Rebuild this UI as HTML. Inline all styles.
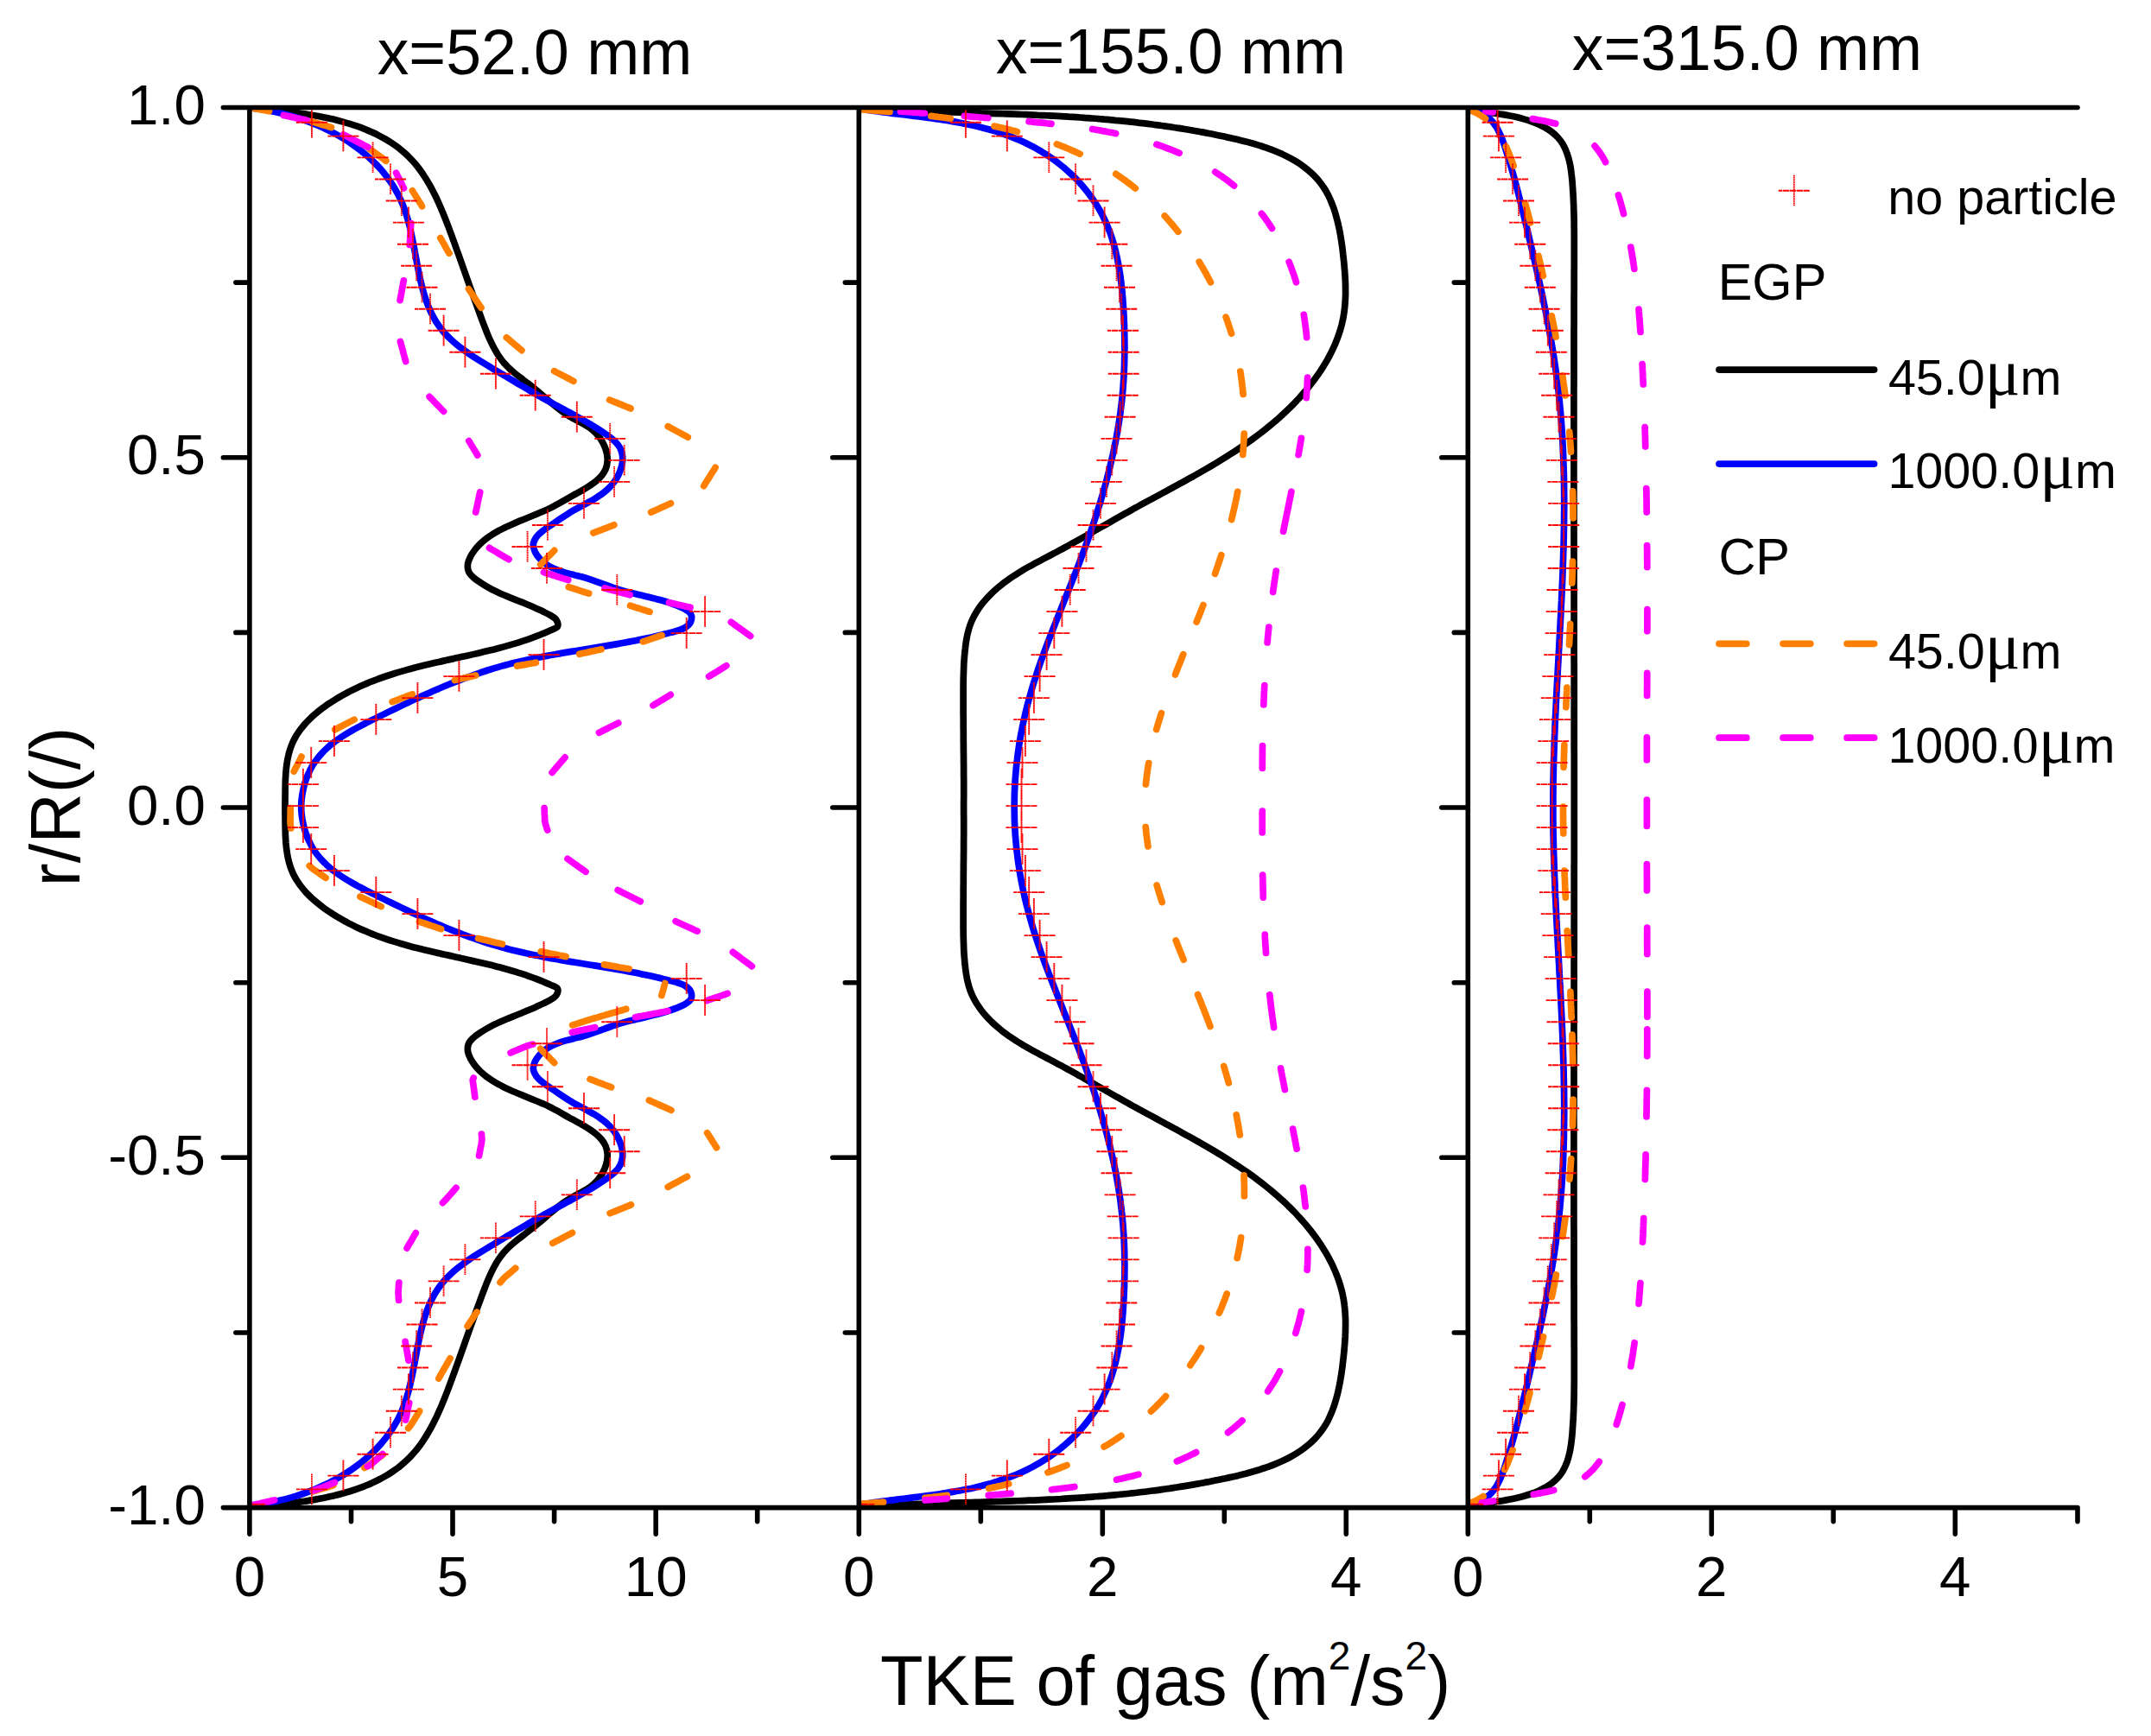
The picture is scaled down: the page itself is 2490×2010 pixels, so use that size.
<!DOCTYPE html>
<html lang="en">
<head>
<meta charset="utf-8">
<title>TKE of gas</title>
<style>
html,body{margin:0;padding:0;background:#fff;}
svg{display:block;}
text{font-family:"Liberation Sans",Arial,sans-serif;fill:#000;}
.ser{font-family:"Liberation Serif","DejaVu Serif",serif;}
.c{fill:none;stroke-linecap:round;stroke-linejoin:round;stroke-width:7.7;}
.ax{fill:none;stroke:#000;stroke-linecap:round;stroke-width:5.6;}
.mk{fill:none;stroke:#ff0000;stroke-width:1.9;stroke-dasharray:7.4 0.6;stroke-dashoffset:3.1;}
.mv{fill:none;stroke:#ff0000;stroke-width:1.9;stroke-dasharray:1.6 0.4;}
</style>
</head>
<body>
<svg width="2490" height="2010" viewBox="0 0 2490 2010">
<rect width="2490" height="2010" fill="#fff"/>
<defs><clipPath id="cp1"><rect x="288.9" y="124.5" width="705.4" height="1621.1"/></clipPath><clipPath id="cp2"><rect x="994.3" y="124.5" width="705" height="1621.1"/></clipPath><clipPath id="cp3"><rect x="1699.3" y="124.5" width="785.7" height="1621.1"/></clipPath></defs>
<g clip-path="url(#cp1)">
<path class="c" stroke="#000" d="M289.3 124.6 C290.8 124.7 295.3 125.2 298.3 125.5 C301.3 125.8 304.3 126.1 307.3 126.4 C310.3 126.7 313.2 127 316.2 127.3 C319.2 127.6 322.2 128 325.2 128.3 C328.2 128.6 331.2 129 334.2 129.4 C337.2 129.7 340.1 130.1 343.1 130.5 C346.1 130.9 349.1 131.4 352 131.8 C355 132.3 358 132.7 361 133.2 C363.9 133.7 366.9 134.3 369.8 134.8 C372.8 135.4 375.7 136 378.7 136.6 C381.6 137.3 384.6 137.9 387.5 138.6 C390.4 139.3 393.3 140.1 396.2 140.9 C399.1 141.7 402 142.5 404.9 143.4 C407.8 144.3 410.6 145.2 413.5 146.2 C416.3 147.2 419.1 148.2 421.9 149.3 C424.7 150.5 427.5 151.6 430.2 152.9 C433 154.1 435.7 155.4 438.4 156.8 C441 158.1 443.7 159.6 446.3 161.1 C448.9 162.6 451.4 164.2 453.9 165.9 C456.4 167.6 458.9 169.3 461.3 171.1 C463.6 173 466 174.9 468.2 176.9 C470.5 178.9 472.6 181 474.7 183.1 C476.8 185.3 478.8 187.5 480.8 189.8 C482.7 192.1 484.5 194.5 486.3 196.9 C488.1 199.4 489.8 201.8 491.4 204.4 C493.1 206.9 494.6 209.5 496.1 212.1 C497.7 214.7 499.1 217.3 500.5 220 C501.9 222.6 503.2 225.3 504.6 228 C505.9 230.7 507.1 233.5 508.3 236.2 C509.6 239 510.8 241.7 511.9 244.5 C513.1 247.3 514.2 250.1 515.3 252.9 C516.4 255.7 517.5 258.5 518.6 261.3 C519.6 264.1 520.7 266.9 521.7 269.7 C522.8 272.5 523.8 275.4 524.8 278.2 C525.9 281 526.9 283.9 527.9 286.7 C528.9 289.5 529.9 292.3 531 295.2 C532 298 533 300.8 534 303.7 C535 306.5 536 309.4 537 312.2 C538 315 539 317.9 540 320.7 C541 323.5 542 326.4 543 329.2 C544 332 545 334.9 546.1 337.7 C547.1 340.5 548.1 343.4 549.1 346.2 C550.1 349 551.2 351.8 552.2 354.7 C553.2 357.5 554.3 360.3 555.3 363.1 C556.3 366 557.4 368.8 558.4 371.6 C559.5 374.4 560.6 377.2 561.6 380 C562.7 382.8 563.8 385.6 565 388.4 C566.2 391.2 567.4 393.9 568.7 396.7 C570 399.4 571.3 402.1 572.8 404.7 C574.2 407.3 575.8 409.9 577.5 412.4 C579.2 414.9 581 417.3 582.9 419.6 C584.9 421.9 587 424 589.1 426.1 C591.3 428.2 593.6 430.2 595.9 432.1 C598.2 434 600.6 435.9 603 437.7 C605.3 439.5 607.8 441.3 610.1 443.2 C612.5 445 614.9 446.8 617.3 448.7 C619.6 450.6 621.9 452.5 624.2 454.5 C626.5 456.4 628.8 458.4 631.1 460.3 C633.3 462.3 635.6 464.3 637.9 466.2 C640.2 468.2 642.5 470.1 644.9 472 C647.2 473.8 649.6 475.6 652.1 477.4 C654.5 479.1 657 480.8 659.6 482.3 C662.2 483.9 664.9 485.3 667.5 486.7 C670.2 488.1 672.9 489.4 675.5 490.9 C678.1 492.4 680.8 493.9 683.2 495.7 C685.6 497.5 687.9 499.5 689.9 501.6 C692 503.8 693.9 506.2 695.5 508.7 C697.2 511.2 698.6 513.9 699.8 516.6 C701 519.4 701.9 522.3 702.5 525.2 C703 528.1 703.4 531.2 703.1 534.2 C702.9 537.1 702.3 540.2 701.2 543 C700.1 545.7 698.3 548.3 696.5 550.6 C694.6 553 692.4 555 690.1 557 C687.8 558.9 685.3 560.6 682.8 562.3 C680.3 564 677.7 565.5 675.1 567.1 C672.6 568.6 669.9 570 667.3 571.5 C664.6 572.9 662 574.4 659.4 575.8 C656.8 577.3 654.2 578.8 651.5 580.3 C648.9 581.8 646.3 583.3 643.7 584.7 C641 586.1 638.4 587.6 635.7 588.9 C633 590.2 630.2 591.4 627.5 592.6 C624.7 593.9 621.9 595 619.1 596.1 C616.4 597.3 613.6 598.4 610.8 599.5 C608 600.7 605.2 601.8 602.4 602.9 C599.6 604.1 596.8 605.2 594.1 606.4 C591.3 607.6 588.6 608.8 585.9 610.1 C583.2 611.5 580.5 612.8 577.8 614.2 C575.2 615.7 572.6 617.2 570 618.8 C567.5 620.4 565 622.1 562.6 623.9 C560.3 625.8 557.9 627.7 555.8 629.8 C553.7 631.9 551.6 634.2 549.8 636.5 C548 638.9 546.2 641.4 544.8 644.1 C543.5 646.7 542 649.6 541.6 652.5 C541.2 655.3 541.3 658.7 542.3 661.3 C543.3 664 545.7 666.3 547.8 668.4 C549.9 670.4 552.5 672.1 555 673.8 C557.5 675.5 560 677.1 562.6 678.6 C565.2 680.1 567.9 681.6 570.5 683 C573.2 684.3 575.9 685.6 578.7 686.9 C581.4 688.1 584.2 689.3 586.9 690.4 C589.7 691.6 592.5 692.7 595.3 693.8 C598.1 694.9 600.9 696 603.7 697.1 C606.5 698.3 609.3 699.4 612 700.6 C614.8 701.8 617.6 703 620.3 704.2 C623 705.5 625.8 706.7 628.5 708 C631.2 709.3 634 710.5 636.6 712.1 C639.1 713.6 642.3 715.2 643.8 717.4 C645.3 719.6 646.4 723.3 645.4 725.4 C644.4 727.4 640.3 728.4 637.6 729.7 C634.9 731.1 632.1 732.2 629.3 733.3 C626.5 734.5 623.7 735.6 620.9 736.7 C618.1 737.8 615.3 738.8 612.4 739.8 C609.6 740.8 606.7 741.8 603.9 742.7 C601 743.6 598.2 744.5 595.3 745.4 C592.4 746.2 589.5 747.1 586.6 747.9 C583.7 748.7 580.8 749.5 577.9 750.3 C575 751 572.1 751.8 569.2 752.5 C566.2 753.2 563.3 753.9 560.4 754.6 C557.5 755.3 554.5 756 551.6 756.7 C548.7 757.3 545.7 758 542.8 758.7 C539.9 759.3 536.9 760 534 760.6 C531.1 761.3 528.1 761.9 525.2 762.6 C522.2 763.2 519.3 763.8 516.4 764.5 C513.4 765.2 510.5 765.8 507.6 766.5 C504.6 767.1 501.7 767.8 498.8 768.5 C495.8 769.2 492.9 769.9 490 770.6 C487.1 771.3 484.2 772.1 481.2 772.8 C478.3 773.6 475.4 774.3 472.5 775.1 C469.6 775.9 466.7 776.7 463.8 777.6 C461 778.4 458.1 779.3 455.2 780.2 C452.3 781.1 449.5 782 446.6 783 C443.8 784 440.9 785 438.1 786 C435.3 787.1 432.5 788.1 429.7 789.2 C426.9 790.4 424.1 791.5 421.4 792.7 C418.6 793.9 415.9 795.1 413.1 796.4 C410.4 797.7 407.7 799 405 800.4 C402.4 801.8 399.7 803.2 397.1 804.7 C394.5 806.1 391.9 807.7 389.3 809.2 C386.7 810.8 384.2 812.4 381.7 814.1 C379.2 815.7 376.7 817.5 374.3 819.2 C371.9 821 369.5 822.9 367.2 824.8 C364.9 826.7 362.6 828.7 360.4 830.7 C358.2 832.8 356.1 834.9 354 837.1 C352 839.4 350.1 841.7 348.2 844.1 C346.4 846.4 344.7 848.9 343.1 851.5 C341.6 854.1 340.1 856.7 338.9 859.5 C337.7 862.2 336.6 865 335.7 867.9 C334.8 870.7 334 873.7 333.4 876.6 C332.7 879.5 332.3 882.5 331.9 885.5 C331.4 888.5 331.2 891.5 330.9 894.5 C330.7 897.5 330.5 900.5 330.4 903.5 C330.3 906.5 330.2 909.5 330.2 912.5 C330.1 915.5 330.1 918.5 330.1 921.5 C330 924.5 330 927.5 330 930.5 C330 933.5 330 936.6 330 939.6 C330 942.6 330 945.6 330.1 948.6 C330.1 951.6 330.1 954.6 330.2 957.6 C330.2 960.6 330.3 963.6 330.4 966.6 C330.5 969.6 330.7 972.6 330.9 975.6 C331.2 978.6 331.4 981.6 331.9 984.6 C332.3 987.6 332.7 990.6 333.4 993.5 C334 996.4 334.8 999.4 335.7 1002.2 C336.6 1005.1 337.7 1007.9 338.9 1010.6 C340.1 1013.4 341.6 1016 343.1 1018.6 C344.7 1021.2 346.4 1023.7 348.2 1026 C350.1 1028.4 352 1030.7 354 1033 C356.1 1035.2 358.2 1037.3 360.4 1039.4 C362.6 1041.4 364.9 1043.4 367.2 1045.3 C369.5 1047.2 371.9 1049.1 374.3 1050.9 C376.7 1052.6 379.2 1054.4 381.7 1056 C384.2 1057.7 386.7 1059.3 389.3 1060.9 C391.9 1062.4 394.5 1064 397.1 1065.4 C399.7 1066.9 402.4 1068.3 405 1069.7 C407.7 1071.1 410.4 1072.4 413.1 1073.7 C415.9 1075 418.6 1076.2 421.4 1077.4 C424.1 1078.6 426.9 1079.7 429.7 1080.9 C432.5 1082 435.3 1083 438.1 1084.1 C440.9 1085.1 443.8 1086.1 446.6 1087.1 C449.5 1088.1 452.3 1089 455.2 1089.9 C458.1 1090.8 461 1091.7 463.8 1092.5 C466.7 1093.4 469.6 1094.2 472.5 1095 C475.4 1095.8 478.3 1096.5 481.2 1097.3 C484.2 1098 487.1 1098.8 490 1099.5 C492.9 1100.2 495.8 1100.9 498.8 1101.6 C501.7 1102.3 504.6 1103 507.6 1103.6 C510.5 1104.3 513.4 1104.9 516.4 1105.6 C519.3 1106.3 522.2 1106.9 525.2 1107.5 C528.1 1108.2 531.1 1108.8 534 1109.5 C536.9 1110.1 539.9 1110.8 542.8 1111.4 C545.7 1112.1 548.7 1112.8 551.6 1113.4 C554.5 1114.1 557.5 1114.8 560.4 1115.5 C563.3 1116.2 566.2 1116.9 569.2 1117.6 C572.1 1118.3 575 1119.1 577.9 1119.8 C580.8 1120.6 583.7 1121.4 586.6 1122.2 C589.5 1123 592.4 1123.9 595.3 1124.7 C598.2 1125.6 601 1126.5 603.9 1127.4 C606.7 1128.3 609.6 1129.3 612.4 1130.3 C615.3 1131.3 618.1 1132.3 620.9 1133.4 C623.7 1134.5 626.5 1135.6 629.3 1136.8 C632.1 1137.9 634.9 1139 637.6 1140.4 C640.3 1141.7 644.4 1142.7 645.4 1144.7 C646.4 1146.8 645.3 1150.5 643.8 1152.7 C642.3 1154.9 639.1 1156.5 636.6 1158 C634 1159.6 631.2 1160.8 628.5 1162.1 C625.8 1163.4 623 1164.6 620.3 1165.9 C617.6 1167.1 614.8 1168.3 612 1169.5 C609.3 1170.7 606.5 1171.8 603.7 1173 C600.9 1174.1 598.1 1175.2 595.3 1176.3 C592.5 1177.4 589.7 1178.5 586.9 1179.7 C584.2 1180.8 581.4 1182 578.7 1183.2 C575.9 1184.5 573.2 1185.8 570.5 1187.1 C567.9 1188.5 565.2 1190 562.6 1191.5 C560 1193 557.5 1194.6 555 1196.3 C552.5 1198 549.9 1199.7 547.8 1201.7 C545.7 1203.8 543.3 1206.1 542.3 1208.8 C541.3 1211.4 541.2 1214.8 541.6 1217.6 C542 1220.5 543.5 1223.4 544.8 1226 C546.2 1228.7 548 1231.2 549.8 1233.6 C551.6 1235.9 553.7 1238.2 555.8 1240.3 C557.9 1242.4 560.3 1244.3 562.6 1246.2 C565 1248 567.5 1249.7 570 1251.3 C572.6 1252.9 575.2 1254.4 577.8 1255.9 C580.5 1257.3 583.2 1258.6 585.9 1260 C588.6 1261.3 591.3 1262.5 594.1 1263.7 C596.8 1264.9 599.6 1266 602.4 1267.2 C605.2 1268.3 608 1269.4 610.8 1270.6 C613.6 1271.7 616.4 1272.8 619.1 1274 C621.9 1275.1 624.7 1276.2 627.5 1277.5 C630.2 1278.7 633 1279.9 635.7 1281.2 C638.4 1282.5 641 1284 643.7 1285.4 C646.3 1286.8 648.9 1288.3 651.5 1289.8 C654.2 1291.3 656.8 1292.8 659.4 1294.3 C662 1295.7 664.6 1297.2 667.3 1298.6 C669.9 1300.1 672.6 1301.5 675.1 1303 C677.7 1304.6 680.3 1306.1 682.8 1307.8 C685.3 1309.5 687.8 1311.2 690.1 1313.1 C692.4 1315.1 694.6 1317.1 696.5 1319.5 C698.3 1321.8 700.1 1324.4 701.2 1327.1 C702.3 1329.9 702.9 1333 703.1 1335.9 C703.4 1338.9 703 1342 702.5 1344.9 C701.9 1347.8 701 1350.7 699.8 1353.5 C698.6 1356.2 697.2 1358.9 695.5 1361.4 C693.9 1363.9 692 1366.3 689.9 1368.5 C687.9 1370.6 685.6 1372.6 683.2 1374.4 C680.8 1376.2 678.1 1377.7 675.5 1379.2 C672.9 1380.7 670.2 1382 667.5 1383.4 C664.9 1384.8 662.2 1386.2 659.6 1387.8 C657 1389.3 654.5 1391 652.1 1392.7 C649.6 1394.5 647.2 1396.3 644.9 1398.1 C642.5 1400 640.2 1401.9 637.9 1403.9 C635.6 1405.8 633.3 1407.8 631.1 1409.8 C628.8 1411.7 626.5 1413.7 624.2 1415.6 C621.9 1417.6 619.6 1419.5 617.3 1421.4 C614.9 1423.3 612.5 1425.1 610.1 1426.9 C607.8 1428.8 605.3 1430.6 603 1432.4 C600.6 1434.2 598.2 1436.1 595.9 1438 C593.6 1439.9 591.3 1441.9 589.1 1444 C587 1446.1 584.9 1448.2 582.9 1450.5 C581 1452.8 579.2 1455.2 577.5 1457.7 C575.8 1460.2 574.2 1462.8 572.8 1465.4 C571.3 1468 570 1470.7 568.7 1473.4 C567.4 1476.2 566.2 1478.9 565 1481.7 C563.8 1484.5 562.7 1487.3 561.6 1490.1 C560.6 1492.9 559.5 1495.7 558.4 1498.5 C557.4 1501.3 556.3 1504.1 555.3 1507 C554.3 1509.8 553.2 1512.6 552.2 1515.4 C551.2 1518.3 550.1 1521.1 549.1 1523.9 C548.1 1526.7 547.1 1529.6 546.1 1532.4 C545 1535.2 544 1538.1 543 1540.9 C542 1543.7 541 1546.6 540 1549.4 C539 1552.2 538 1555.1 537 1557.9 C536 1560.7 535 1563.6 534 1566.4 C533 1569.3 532 1572.1 531 1574.9 C529.9 1577.8 528.9 1580.6 527.9 1583.4 C526.9 1586.2 525.9 1589.1 524.8 1591.9 C523.8 1594.7 522.8 1597.6 521.7 1600.4 C520.7 1603.2 519.6 1606 518.6 1608.8 C517.5 1611.6 516.4 1614.4 515.3 1617.2 C514.2 1620 513.1 1622.8 511.9 1625.6 C510.8 1628.4 509.6 1631.1 508.3 1633.9 C507.1 1636.6 505.9 1639.4 504.6 1642.1 C503.2 1644.8 501.9 1647.5 500.5 1650.1 C499.1 1652.8 497.7 1655.4 496.1 1658 C494.6 1660.6 493.1 1663.2 491.4 1665.7 C489.8 1668.3 488.1 1670.7 486.3 1673.2 C484.5 1675.6 482.7 1678 480.8 1680.3 C478.8 1682.6 476.8 1684.8 474.7 1687 C472.6 1689.1 470.5 1691.2 468.2 1693.2 C466 1695.2 463.6 1697.1 461.3 1699 C458.9 1700.8 456.4 1702.5 453.9 1704.2 C451.4 1705.9 448.9 1707.5 446.3 1709 C443.7 1710.5 441 1712 438.4 1713.3 C435.7 1714.7 433 1716 430.2 1717.2 C427.5 1718.5 424.7 1719.6 421.9 1720.8 C419.1 1721.9 416.3 1722.9 413.5 1723.9 C410.6 1724.9 407.8 1725.8 404.9 1726.7 C402 1727.6 399.1 1728.4 396.2 1729.2 C393.3 1730 390.4 1730.8 387.5 1731.5 C384.6 1732.2 381.6 1732.8 378.7 1733.5 C375.7 1734.1 372.8 1734.7 369.8 1735.3 C366.9 1735.8 363.9 1736.4 361 1736.9 C358 1737.4 355 1737.8 352 1738.3 C349.1 1738.7 346.1 1739.2 343.1 1739.6 C340.1 1740 337.2 1740.4 334.2 1740.7 C331.2 1741.1 328.2 1741.5 325.2 1741.8 C322.2 1742.1 319.2 1742.5 316.2 1742.8 C313.2 1743.1 310.3 1743.4 307.3 1743.7 C304.3 1744 301.3 1744.3 298.3 1744.6 C295.3 1744.9 290.8 1745.4 289.3 1745.5"/>
<path class="c" stroke="#0000ff" d="M289.3 124.8 C290.8 125 295.3 125.5 298.2 125.9 C301.2 126.3 304.2 126.7 307.2 127.2 C310.1 127.7 313.1 128.3 316 128.9 C319 129.5 321.9 130.2 324.8 130.9 C327.7 131.6 330.6 132.3 333.5 133.1 C336.4 133.9 339.3 134.7 342.2 135.6 C345.1 136.5 347.9 137.5 350.7 138.5 C353.6 139.4 356.4 140.5 359.2 141.6 C362 142.7 364.8 143.8 367.5 145 C370.3 146.2 373.1 147.4 375.8 148.7 C378.5 150 381.2 151.3 383.8 152.7 C386.5 154 389.2 155.5 391.8 157 C394.4 158.5 397 160 399.5 161.6 C402.1 163.2 404.6 164.8 407 166.5 C409.5 168.2 412 170 414.4 171.8 C416.8 173.6 419.1 175.4 421.4 177.4 C423.7 179.3 426 181.3 428.2 183.3 C430.4 185.3 432.6 187.4 434.7 189.5 C436.8 191.7 438.9 193.9 440.8 196.1 C442.8 198.4 444.7 200.7 446.6 203.1 C448.4 205.5 450.2 207.9 451.9 210.4 C453.6 212.8 455.3 215.4 456.8 217.9 C458.3 220.5 459.8 223.1 461.2 225.8 C462.5 228.5 463.8 231.2 465 234 C466.2 236.7 467.3 239.5 468.3 242.4 C469.3 245.2 470.2 248 471.1 250.9 C472 253.8 472.8 256.7 473.5 259.6 C474.3 262.5 475 265.4 475.6 268.4 C476.3 271.3 476.9 274.2 477.5 277.2 C478.1 280.1 478.7 283.1 479.2 286 C479.8 289 480.3 291.9 480.9 294.9 C481.4 297.8 482 300.8 482.5 303.7 C483.1 306.7 483.6 309.6 484.2 312.6 C484.8 315.5 485.4 318.5 486 321.4 C486.7 324.4 487.4 327.3 488.1 330.2 C488.8 333.1 489.6 336 490.4 338.9 C491.3 341.8 492.2 344.7 493.2 347.5 C494.1 350.3 495.2 353.1 496.4 355.9 C497.5 358.7 498.8 361.4 500.1 364.1 C501.5 366.8 502.9 369.4 504.5 372 C506.1 374.5 507.8 377 509.6 379.4 C511.4 381.8 513.3 384.1 515.3 386.4 C517.3 388.6 519.5 390.7 521.7 392.8 C523.8 394.8 526.1 396.8 528.4 398.7 C530.7 400.6 533.1 402.5 535.5 404.2 C537.9 406 540.4 407.8 542.9 409.5 C545.3 411.2 547.9 412.8 550.4 414.5 C552.9 416.1 555.5 417.7 558 419.2 C560.6 420.8 563.1 422.4 565.7 423.9 C568.3 425.5 570.9 427 573.4 428.6 C576 430.1 578.6 431.6 581.2 433.2 C583.8 434.7 586.3 436.3 588.9 437.8 C591.5 439.4 594.1 440.9 596.7 442.4 C599.2 444 601.8 445.5 604.4 447 C607 448.5 609.6 450.1 612.2 451.6 C614.8 453.1 617.4 454.6 620 456.1 C622.6 457.6 625.2 459.1 627.8 460.5 C630.5 462 633.1 463.5 635.7 464.9 C638.3 466.4 641 467.8 643.6 469.2 C646.3 470.7 648.9 472.1 651.6 473.5 C654.2 474.9 656.9 476.3 659.5 477.7 C662.1 479.2 664.8 480.6 667.4 482.1 C670 483.5 672.7 485 675.3 486.5 C677.9 488 680.5 489.5 683.1 491 C685.6 492.6 688.2 494.1 690.7 495.7 C693.3 497.4 695.8 499 698.3 500.7 C700.8 502.4 703.3 504 705.6 505.9 C708 507.7 710.5 509.5 712.5 511.7 C714.6 513.8 716.6 516.2 717.9 518.9 C719.2 521.5 720.1 524.5 720.5 527.4 C720.9 530.4 720.7 533.5 720.3 536.4 C719.8 539.4 719 542.3 717.9 545.1 C716.9 547.9 715.6 550.7 714.1 553.2 C712.6 555.8 710.8 558.3 708.9 560.6 C707 562.9 704.9 565.1 702.7 567.1 C700.5 569.1 698.1 571 695.6 572.7 C693.2 574.5 690.7 576.1 688.1 577.7 C685.5 579.3 682.9 580.7 680.3 582.2 C677.6 583.6 675 585 672.3 586.4 C669.7 587.8 667 589.2 664.4 590.7 C661.8 592.2 659.2 593.8 656.7 595.4 C654.1 597 651.7 598.6 649.2 600.3 C646.7 602 644.2 603.7 641.7 605.4 C639.2 607 636.7 608.7 634.2 610.4 C631.8 612.1 629.2 613.8 627 615.8 C624.7 617.7 622.3 619.7 620.7 622.2 C619.1 624.6 617.5 627.6 617.3 630.4 C617.1 633.2 618.2 636.4 619.4 639.1 C620.6 641.7 622.5 644.2 624.5 646.5 C626.4 648.7 628.7 650.7 631.1 652.5 C633.5 654.3 636.1 655.9 638.8 657.2 C641.4 658.6 644.3 659.7 647.1 660.7 C649.9 661.7 652.8 662.5 655.7 663.4 C658.6 664.2 661.5 664.9 664.4 665.6 C667.3 666.4 670.3 667 673.2 667.8 C676.1 668.6 678.9 669.4 681.8 670.4 C684.7 671.3 687.5 672.3 690.3 673.3 C693.2 674.3 696 675.4 698.8 676.4 C701.6 677.5 704.4 678.5 707.2 679.5 C710.1 680.5 712.9 681.5 715.8 682.4 C718.6 683.3 721.5 684.1 724.4 684.9 C727.3 685.7 730.3 686.4 733.2 687.1 C736.1 687.8 739 688.4 742 689.1 C744.9 689.8 747.8 690.5 750.7 691.2 C753.7 691.9 756.6 692.6 759.5 693.4 C762.4 694.1 765.3 694.9 768.2 695.8 C771 696.6 773.9 697.6 776.7 698.5 C779.6 699.5 782.4 700.6 785.2 701.7 C787.9 702.9 790.9 703.9 793.3 705.5 C795.8 707.1 798.9 709 799.9 711.5 C801 713.9 800.6 717.6 799.5 720.2 C798.4 722.7 795.7 724.9 793.3 726.5 C790.9 728.2 787.8 729 785 730 C782.2 731 779.2 731.6 776.3 732.4 C773.4 733.2 770.5 733.9 767.6 734.6 C764.7 735.4 761.8 736.1 758.8 736.7 C755.9 737.4 753 738.1 750 738.7 C747.1 739.3 744.2 740 741.2 740.6 C738.3 741.2 735.3 741.7 732.4 742.3 C729.4 742.9 726.5 743.4 723.5 744 C720.6 744.5 717.6 745.1 714.7 745.6 C711.7 746.1 708.7 746.6 705.8 747.1 C702.8 747.6 699.8 748.1 696.9 748.6 C693.9 749.1 691 749.6 688 750.1 C685 750.6 682.1 751 679.1 751.5 C676.1 752 673.2 752.5 670.2 753 C667.2 753.5 664.3 753.9 661.3 754.4 C658.3 754.9 655.4 755.4 652.4 755.9 C649.5 756.4 646.5 757 643.5 757.5 C640.6 758 637.6 758.5 634.7 759.1 C631.7 759.6 628.8 760.2 625.8 760.8 C622.9 761.4 619.9 761.9 617 762.6 C614 763.2 611.1 763.8 608.2 764.4 C605.2 765.1 602.3 765.8 599.4 766.5 C596.5 767.2 593.5 767.9 590.6 768.6 C587.7 769.4 584.8 770.1 581.9 770.9 C579 771.7 576.1 772.5 573.3 773.4 C570.4 774.3 567.5 775.1 564.6 776 C561.8 777 558.9 777.9 556.1 778.8 C553.2 779.8 550.4 780.8 547.6 781.8 C544.7 782.8 541.9 783.8 539.1 784.9 C536.3 785.9 533.5 787 530.7 788.1 C527.9 789.2 525.1 790.3 522.3 791.4 C519.5 792.5 516.7 793.7 514 794.8 C511.2 796 508.4 797.2 505.7 798.3 C502.9 799.5 500.1 800.7 497.4 802 C494.7 803.2 491.9 804.4 489.2 805.6 C486.4 806.9 483.7 808.1 481 809.4 C478.3 810.7 475.5 811.9 472.8 813.2 C470.1 814.5 467.4 815.8 464.7 817.1 C462 818.4 459.3 819.7 456.6 821 C453.9 822.3 451.2 823.6 448.5 824.9 C445.8 826.3 443.1 827.6 440.4 828.9 C437.7 830.2 435 831.6 432.3 832.9 C429.6 834.2 426.9 835.6 424.2 836.9 C421.5 838.3 418.9 839.7 416.2 841.1 C413.6 842.5 410.9 843.9 408.3 845.4 C405.7 846.9 403.1 848.4 400.5 850 C398 851.5 395.4 853.2 393 854.9 C390.5 856.6 388.1 858.3 385.7 860.2 C383.3 862 381 863.9 378.8 866 C376.6 868 374.4 870.1 372.4 872.3 C370.4 874.5 368.4 876.8 366.6 879.2 C364.8 881.6 363.1 884.1 361.6 886.7 C360.1 889.3 358.7 892 357.5 894.7 C356.2 897.4 355.1 900.2 354.1 903.1 C353.1 905.9 352.3 908.8 351.6 911.7 C350.8 914.6 350.3 917.6 349.8 920.5 C349.4 923.5 349 926.5 348.8 929.5 C348.7 932.5 348.7 935.5 348.8 938.5 C349 941.5 349.4 944.5 349.8 947.5 C350.3 950.4 350.8 953.4 351.6 956.3 C352.3 959.2 353.1 962.1 354.1 964.9 C355.1 967.8 356.2 970.6 357.5 973.3 C358.7 976 360.1 978.7 361.6 981.3 C363.1 983.9 364.8 986.4 366.6 988.8 C368.4 991.2 370.4 993.5 372.4 995.7 C374.4 997.9 376.6 1000 378.8 1002 C381 1004.1 383.3 1006 385.7 1007.8 C388.1 1009.7 390.5 1011.4 393 1013.1 C395.4 1014.8 398 1016.5 400.5 1018 C403.1 1019.6 405.7 1021.1 408.3 1022.6 C410.9 1024.1 413.6 1025.5 416.2 1026.9 C418.9 1028.3 421.5 1029.7 424.2 1031.1 C426.9 1032.4 429.6 1033.8 432.3 1035.1 C435 1036.4 437.7 1037.8 440.4 1039.1 C443.1 1040.4 445.8 1041.7 448.5 1043.1 C451.2 1044.4 453.9 1045.7 456.6 1047 C459.3 1048.3 462 1049.6 464.7 1050.9 C467.4 1052.2 470.1 1053.5 472.8 1054.8 C475.5 1056.1 478.3 1057.3 481 1058.6 C483.7 1059.9 486.4 1061.1 489.2 1062.4 C491.9 1063.6 494.7 1064.8 497.4 1066 C500.1 1067.3 502.9 1068.5 505.7 1069.7 C508.4 1070.8 511.2 1072 514 1073.2 C516.7 1074.3 519.5 1075.5 522.3 1076.6 C525.1 1077.7 527.9 1078.8 530.7 1079.9 C533.5 1081 536.3 1082.1 539.1 1083.1 C541.9 1084.2 544.7 1085.2 547.6 1086.2 C550.4 1087.2 553.2 1088.2 556.1 1089.2 C558.9 1090.1 561.8 1091 564.6 1092 C567.5 1092.9 570.4 1093.7 573.3 1094.6 C576.1 1095.5 579 1096.3 581.9 1097.1 C584.8 1097.9 587.7 1098.6 590.6 1099.4 C593.5 1100.1 596.5 1100.8 599.4 1101.5 C602.3 1102.2 605.2 1102.9 608.2 1103.6 C611.1 1104.2 614 1104.8 617 1105.4 C619.9 1106.1 622.9 1106.6 625.8 1107.2 C628.8 1107.8 631.7 1108.4 634.7 1108.9 C637.6 1109.5 640.6 1110 643.5 1110.5 C646.5 1111 649.5 1111.6 652.4 1112.1 C655.4 1112.6 658.3 1113.1 661.3 1113.6 C664.3 1114.1 667.2 1114.5 670.2 1115 C673.2 1115.5 676.1 1116 679.1 1116.5 C682.1 1117 685 1117.4 688 1117.9 C691 1118.4 693.9 1118.9 696.9 1119.4 C699.8 1119.9 702.8 1120.4 705.8 1120.9 C708.7 1121.4 711.7 1121.9 714.7 1122.4 C717.6 1122.9 720.6 1123.5 723.5 1124 C726.5 1124.6 729.4 1125.1 732.4 1125.7 C735.3 1126.3 738.3 1126.8 741.2 1127.4 C744.2 1128 747.1 1128.7 750 1129.3 C753 1129.9 755.9 1130.6 758.8 1131.3 C761.8 1131.9 764.7 1132.6 767.6 1133.4 C770.5 1134.1 773.4 1134.8 776.3 1135.6 C779.2 1136.4 782.2 1137 785 1138 C787.8 1139 790.9 1139.8 793.3 1141.5 C795.7 1143.1 798.4 1145.3 799.5 1147.8 C800.6 1150.4 801 1154.1 799.9 1156.5 C798.9 1159 795.8 1160.9 793.3 1162.5 C790.9 1164.1 787.9 1165.1 785.2 1166.3 C782.4 1167.4 779.6 1168.5 776.7 1169.5 C773.9 1170.4 771 1171.4 768.2 1172.2 C765.3 1173.1 762.4 1173.9 759.5 1174.6 C756.6 1175.4 753.7 1176.1 750.7 1176.8 C747.8 1177.5 744.9 1178.2 742 1178.9 C739 1179.6 736.1 1180.2 733.2 1180.9 C730.3 1181.6 727.3 1182.3 724.4 1183.1 C721.5 1183.9 718.6 1184.7 715.8 1185.6 C712.9 1186.5 710.1 1187.5 707.2 1188.5 C704.4 1189.5 701.6 1190.5 698.8 1191.6 C696 1192.6 693.2 1193.7 690.3 1194.7 C687.5 1195.7 684.7 1196.7 681.8 1197.6 C678.9 1198.6 676.1 1199.4 673.2 1200.2 C670.3 1201 667.3 1201.6 664.4 1202.4 C661.5 1203.1 658.6 1203.8 655.7 1204.6 C652.8 1205.5 649.9 1206.3 647.1 1207.3 C644.3 1208.3 641.4 1209.4 638.8 1210.8 C636.1 1212.1 633.5 1213.7 631.1 1215.5 C628.7 1217.3 626.4 1219.3 624.5 1221.5 C622.5 1223.8 620.6 1226.3 619.4 1228.9 C618.2 1231.6 617.1 1234.8 617.3 1237.6 C617.5 1240.4 619.1 1243.4 620.7 1245.8 C622.3 1248.3 624.7 1250.3 627 1252.2 C629.2 1254.2 631.8 1255.9 634.2 1257.6 C636.7 1259.3 639.2 1261 641.7 1262.6 C644.2 1264.3 646.7 1266 649.2 1267.7 C651.7 1269.4 654.1 1271 656.7 1272.6 C659.2 1274.2 661.8 1275.8 664.4 1277.3 C667 1278.8 669.7 1280.2 672.3 1281.6 C675 1283 677.6 1284.4 680.3 1285.8 C682.9 1287.3 685.5 1288.7 688.1 1290.3 C690.7 1291.9 693.2 1293.5 695.6 1295.3 C698.1 1297 700.5 1298.9 702.7 1300.9 C704.9 1302.9 707 1305.1 708.9 1307.4 C710.8 1309.7 712.6 1312.2 714.1 1314.8 C715.6 1317.3 716.9 1320.1 717.9 1322.9 C719 1325.7 719.8 1328.6 720.3 1331.6 C720.7 1334.5 720.9 1337.6 720.5 1340.6 C720.1 1343.5 719.2 1346.5 717.9 1349.1 C716.6 1351.8 714.6 1354.2 712.5 1356.3 C710.5 1358.5 708 1360.3 705.6 1362.1 C703.3 1364 700.8 1365.6 698.3 1367.3 C695.8 1369 693.3 1370.6 690.7 1372.3 C688.2 1373.9 685.6 1375.4 683.1 1377 C680.5 1378.5 677.9 1380 675.3 1381.5 C672.7 1383 670 1384.5 667.4 1385.9 C664.8 1387.4 662.1 1388.8 659.5 1390.3 C656.9 1391.7 654.2 1393.1 651.6 1394.5 C648.9 1395.9 646.3 1397.3 643.6 1398.8 C641 1400.2 638.3 1401.6 635.7 1403.1 C633.1 1404.5 630.5 1406 627.8 1407.5 C625.2 1408.9 622.6 1410.4 620 1411.9 C617.4 1413.4 614.8 1414.9 612.2 1416.4 C609.6 1417.9 607 1419.5 604.4 1421 C601.8 1422.5 599.2 1424 596.7 1425.6 C594.1 1427.1 591.5 1428.6 588.9 1430.2 C586.3 1431.7 583.8 1433.3 581.2 1434.8 C578.6 1436.4 576 1437.9 573.4 1439.4 C570.9 1441 568.3 1442.5 565.7 1444.1 C563.1 1445.6 560.6 1447.2 558 1448.8 C555.5 1450.3 552.9 1451.9 550.4 1453.5 C547.9 1455.2 545.3 1456.8 542.9 1458.5 C540.4 1460.2 537.9 1462 535.5 1463.8 C533.1 1465.5 530.7 1467.4 528.4 1469.3 C526.1 1471.2 523.8 1473.2 521.7 1475.2 C519.5 1477.3 517.3 1479.4 515.3 1481.6 C513.3 1483.9 511.4 1486.2 509.6 1488.6 C507.8 1491 506.1 1493.5 504.5 1496 C502.9 1498.6 501.5 1501.2 500.1 1503.9 C498.8 1506.6 497.5 1509.3 496.4 1512.1 C495.2 1514.9 494.1 1517.7 493.2 1520.5 C492.2 1523.3 491.3 1526.2 490.4 1529.1 C489.6 1532 488.8 1534.9 488.1 1537.8 C487.4 1540.7 486.7 1543.6 486 1546.6 C485.4 1549.5 484.8 1552.5 484.2 1555.4 C483.6 1558.4 483.1 1561.3 482.5 1564.3 C482 1567.2 481.4 1570.2 480.9 1573.1 C480.3 1576.1 479.8 1579 479.2 1582 C478.7 1584.9 478.1 1587.9 477.5 1590.8 C476.9 1593.8 476.3 1596.7 475.6 1599.6 C475 1602.6 474.3 1605.5 473.5 1608.4 C472.8 1611.3 472 1614.2 471.1 1617.1 C470.2 1620 469.3 1622.8 468.3 1625.6 C467.3 1628.5 466.2 1631.3 465 1634 C463.8 1636.8 462.5 1639.5 461.2 1642.2 C459.8 1644.9 458.3 1647.5 456.8 1650.1 C455.3 1652.6 453.6 1655.2 451.9 1657.6 C450.2 1660.1 448.4 1662.5 446.6 1664.9 C444.7 1667.3 442.8 1669.6 440.8 1671.9 C438.9 1674.1 436.8 1676.3 434.7 1678.5 C432.6 1680.6 430.4 1682.7 428.2 1684.7 C426 1686.7 423.7 1688.7 421.4 1690.6 C419.1 1692.6 416.8 1694.4 414.4 1696.2 C412 1698 409.5 1699.8 407 1701.5 C404.6 1703.2 402.1 1704.8 399.5 1706.4 C397 1708 394.4 1709.5 391.8 1711 C389.2 1712.5 386.5 1714 383.8 1715.3 C381.2 1716.7 378.5 1718 375.8 1719.3 C373.1 1720.6 370.3 1721.8 367.5 1723 C364.8 1724.2 362 1725.3 359.2 1726.4 C356.4 1727.5 353.6 1728.6 350.7 1729.5 C347.9 1730.5 345.1 1731.5 342.2 1732.4 C339.3 1733.3 336.4 1734.1 333.5 1734.9 C330.6 1735.7 327.7 1736.4 324.8 1737.1 C321.9 1737.8 319 1738.5 316 1739.1 C313.1 1739.7 310.1 1740.3 307.2 1740.8 C304.2 1741.3 301.2 1741.7 298.2 1742.1 C295.3 1742.5 290.8 1743 289.3 1743.2"/>
<path class="c" stroke="#ff8000" d="M293.2 125.3 L296.2 125.9 L299.1 126.4 L302.1 127 L305.1 127.5 L308 128 L311 128.6 L311.5 128.7 M361 140.8 L363.9 141.6 L366.8 142.5 L369.6 143.4 L372.5 144.2 L375.4 145.1 L378.3 145.9 L381.1 146.8 L383.5 147.5 M427.4 172.1 L429.8 173.8 L432.2 175.6 L434.7 177.4 L437.1 179.1 L439.5 180.9 L442 182.7 L444.4 184.5 L446.9 186.2 M477.4 220.8 L479 223.4 L480.6 226 L482.2 228.5 L483.8 231.1 L485.4 233.7 L487 236.2 L488.5 238.8 M509.8 275.5 L511.3 278.1 L512.8 280.7 L514.3 283.3 L515.7 285.9 L517.2 288.6 L518.7 291.2 L520 293.3 M542.5 334.6 L544.2 337.1 L545.9 339.6 L547.5 342.1 L549.2 344.6 L550.8 347.1 L552.5 349.6 L554.2 352.1 L555.8 354.6 L557 356.3 M586.4 390.8 L588.6 392.7 L590.9 394.7 L593.2 396.6 L595.5 398.6 L597.8 400.5 L600.1 402.5 L602.4 404.4 L603.9 405.7 M641.6 429.7 L644.2 431.1 L646.9 432.4 L649.6 433.8 L652.3 435.2 L655 436.6 L657.6 438 L660.3 439.4 L663 440.8 L663.9 441.3 M705.6 463 L708.5 464.2 L711.3 465.3 L714.1 466.4 L716.9 467.6 L719.7 468.7 L722.5 469.8 L725.3 471 L728.1 472.1 L730 472.9 M773.2 493.7 L775.8 495.2 L778.5 496.6 L781.2 498 L783.9 499.5 L786.5 500.9 L789.2 502.3 L791.9 503.8 L794.6 505.2 L796.3 506.2 M828.1 541.3 L826.5 543.9 L824.9 546.4 L823.3 549 L821.7 551.6 L820.1 554.1 L818.4 556.7 L816.8 559.3 L815.2 561.9 L814.7 562.7 M776.5 582.7 L773.8 584 L771 585.2 L768.3 586.5 L765.5 587.7 L762.8 588.9 L760 590.2 L757.3 591.4 L754.5 592.6 L753.6 593.1 M710.9 607.8 L708.1 608.9 L705.2 610 L702.4 611.1 L699.6 612.2 L696.7 613.3 L693.9 614.3 L691.1 615.4 L688.2 616.5 L686.8 617 M641.7 637.4 L639.5 639.6 L637.4 641.8 L635.3 643.9 L633.1 646.1 L631 648.3 L628.9 650.4 L626.8 652.6 L625.7 653.7 M658.3 679.7 L661.2 680.6 L664 681.5 L666.9 682.4 L669.8 683.4 L672.6 684.3 L675.5 685.2 L678.3 686.1 L681.2 687 L681.7 687.1 M729.6 701.2 L732.5 702.1 L735.3 703.1 L738.2 704 L741.1 704.9 L743.9 705.8 L746.8 706.7 L749.7 707.7 L752.1 708.4 M766.2 735.6 L763.4 736.5 L760.5 737.5 L757.7 738.4 L754.8 739.4 L752 740.3 L749.1 741.3 L746.2 742.3 L744.3 742.9 M696 751.8 L693 752.5 L690.1 753.1 L687.1 753.8 L684.1 754.4 L681.2 755 L678.2 755.7 L675.3 756.3 L672.3 756.9 L670.8 757.3 M620.3 767.2 L617.3 767.8 L614.4 768.3 L611.4 768.8 L608.4 769.4 L605.5 769.9 L602.5 770.4 L599.5 770.9 L598.5 771.1 M550.6 782.1 L547.7 782.8 L544.7 783.4 L541.7 784.1 L538.8 784.8 L535.8 785.4 L532.8 786.1 L529.8 786.7 L526.9 787.4 L526.4 787.5 M477.3 803.8 L474.5 804.8 L471.6 805.9 L468.8 807 L466 808.1 L463.1 809.2 L460.3 810.3 L457.4 811.4 L454.6 812.4 L454.1 812.6 M410.1 833.2 L407.4 834.6 L404.7 835.9 L402.1 837.3 L399.4 838.7 L396.7 840.1 L394 841.5 L391.3 842.9 L388.6 844.3 L387.7 844.8 M349 876.1 L347.7 878.8 L346.3 881.5 L344.9 884.2 L343.5 886.9 L342.1 889.6 L340.7 892.3 L340.2 893.2 M336.3 935.5 L336.2 938.5 L336.2 941.5 L336.1 944.5 L336.1 947.5 L336 950.5 L336.1 953.5 L336.5 956.5 L336.8 959 M358.3 1002.5 L360.5 1004.6 L362.8 1006.6 L365.3 1008.3 L367.9 1010 L370.4 1011.8 L372.9 1013.5 L375.4 1015.2 L377.1 1016.4 M416.9 1038.2 L419.7 1039.5 L422.4 1040.8 L425.2 1042.1 L427.9 1043.4 L430.6 1044.6 L433.4 1045.9 L436.1 1047.2 L438.9 1048.5 L441.2 1049.6 M485.4 1067.1 L488.2 1068.1 L491.1 1069 L493.9 1070 L496.8 1071 L499.6 1071.9 L502.5 1072.9 L505.3 1073.8 L508.2 1074.8 L510.6 1075.6 M553.6 1086.6 L556.6 1087.3 L559.5 1087.9 L562.4 1088.6 L565.3 1089.3 L568.3 1090 L571.2 1090.7 L574.1 1091.4 L577 1092.1 L580 1092.8 L581.4 1093.1 M626.2 1101.8 L629.2 1102.4 L632.2 1103 L635.1 1103.6 L638.1 1104.2 L641.1 1104.8 L644.1 1105.4 L647 1106 L650 1106.5 L653 1107.1 L655 1107.5 M699.4 1116.9 L702.4 1117.4 L705.3 1117.9 L708.3 1118.4 L711.3 1118.9 L714.3 1119.4 L717.2 1120 L720.2 1120.5 L723.2 1121 L726.1 1121.5 L728.1 1121.8 M769.8 1138.4 L769 1141.3 L768.2 1144.3 L767.4 1147.2 L766.6 1150.1 L765.9 1152.6 M724.8 1168.3 L721.9 1169.1 L719 1170 L716.1 1170.8 L713.2 1171.7 L710.3 1172.5 L707.3 1173.3 L704.4 1174.2 L701.5 1175 L698.6 1175.9 L695.7 1176.7 L692.8 1177.6 L689.9 1178.4 L686.9 1179.2 L684 1180.1 L681.2 1181 L678.3 1181.9 L675.5 1182.8 L672.6 1183.7 L669.8 1184.7 L666.9 1185.6 L664 1186.5 L662.6 1186.9 M625.7 1214.3 L627.8 1216.5 L629.9 1218.7 L632.1 1220.8 L634.2 1223 L636.3 1225.2 L638.5 1227.3 L640.6 1229.5 L641.7 1230.6 M683 1249.5 L685.9 1250.6 L688.7 1251.7 L691.5 1252.8 L694.4 1253.8 L697.2 1254.9 L700 1256 L702.9 1257.1 L705.7 1258.2 L707.6 1258.9 M751.3 1273.9 L754.1 1275.1 L756.8 1276.4 L759.6 1277.6 L762.3 1278.9 L765.1 1280.1 L767.8 1281.3 L770.6 1282.6 L773.3 1283.8 L776.1 1285 L777 1285.5 M818.7 1311.7 L820.3 1314.3 L821.9 1316.8 L823.6 1319.4 L825.2 1322 L826.8 1324.6 L828.4 1327.1 L829.5 1328.8 M795.4 1362.3 L792.8 1363.7 L790.1 1365.2 L787.4 1366.6 L784.8 1368.1 L782.1 1369.5 L779.4 1370.9 L776.7 1372.4 L774.1 1373.8 L773.2 1374.3 M730.5 1394.9 L727.7 1396.1 L724.9 1397.2 L722.1 1398.3 L719.2 1399.5 L716.4 1400.6 L713.6 1401.8 L710.8 1402.9 L708 1404 L706.1 1404.8 M662.5 1427.4 L659.9 1428.8 L657.2 1430.2 L654.5 1431.6 L651.8 1433 L649.2 1434.4 L646.5 1435.8 L643.8 1437.2 L641.1 1438.6 L639.8 1439.3 M596.7 1468.4 L594.4 1470.4 L592.1 1472.3 L589.8 1474.3 L587.5 1476.2 L585.2 1478.2 L583 1480.2 L581 1482.5 L579.1 1484.8 M552 1519.2 L550.3 1521.7 L548.6 1524.2 L547 1526.7 L545.3 1529.2 L543.6 1531.7 L542 1534.2 L541.1 1535.5 M521 1572.9 L519.5 1575.5 L518 1578.1 L516.5 1580.8 L515 1583.4 L513.5 1586 L512 1588.6 L510.5 1591.2 L509 1593.8 L507.8 1596 M485.6 1633.9 L484 1636.5 L482.5 1639 L480.9 1641.6 L479.3 1644.2 L477.7 1646.7 L476.1 1649.3 L474.3 1651.7 L472.6 1653.6 M443.2 1684.4 L440.8 1686.2 L438.3 1688 L435.9 1689.7 L433.4 1691.5 L431 1693.3 L428.6 1695.1 L426.1 1696.8 L423.7 1698.5 L421.9 1699.5 M385.9 1719.8 L383.1 1720.6 L380.2 1721.5 L377.3 1722.4 L374.4 1723.2 L371.6 1724.1 L368.7 1724.9 L365.8 1725.8 L362.9 1726.6 L362.5 1726.8"/>
<path class="c" stroke="#ff00ff" d="M328.4 133.5 L331.4 134.1 L334.3 134.8 L337.3 135.4 L340.3 136 L343.2 136.7 L346.2 137.3 L349.1 138 L352.1 138.6 L355 139.3 M397.6 155.8 L400.3 157.2 L403 158.6 L405.7 160 L408.4 161.4 L411.1 162.8 L413.7 164.2 L416.4 165.5 L419.1 166.9 L421.8 168.3 L424.5 169.7 L425.9 170.4 M458.6 200.2 L459.9 202.9 L461.3 205.6 L462.7 208.3 L464 211 L465.4 213.8 L466.7 216.5 L467.4 217.8 M475.8 258.5 L475.6 261.5 L475.4 264.5 L475.2 267.5 L475 270.5 L474.8 273.5 L474.7 276.5 L474.5 279.5 L474.3 282.5 L474.2 283.5 M467.3 324.9 L466.7 327.9 L466.2 330.8 L465.7 333.8 L465.1 336.7 L464.6 339.7 L464 342.6 L463.5 345.6 L463.1 347.6 M463.4 395.4 L464.2 398.3 L465 401.2 L465.8 404.1 L466.6 407 L467.3 409.9 L468.1 412.8 L468.9 415.7 L469.7 418.6 M497.1 459.3 L499.2 461.5 L501.3 463.7 L503.4 465.9 L505.5 468 L507.6 470.2 L509.7 472.4 L511.8 474.6 L513.6 476.4 M542.8 510.5 L544.4 513.1 L545.9 515.7 L547.5 518.3 L549.1 520.9 L550.7 523.5 L552.2 526.1 L552.8 527 M555.7 569.9 L555 572.9 L554.4 575.8 L553.8 578.7 L553.1 581.7 L552.5 584.6 L551.9 587.6 L551.3 590.5 L550.7 593 M566.5 634.4 L569.1 636 L571.7 637.5 L574.3 639 L576.9 640.6 L579.4 642.1 L582 643.6 L584.6 645.2 L587.2 646.7 L589 647.7 M629.4 662.6 L632.3 663.5 L635.1 664.4 L638 665.3 L640.9 666.2 L643.8 667.2 L646.7 668.1 L649.6 669 L652.5 669.9 L655.4 670.8 L657.8 671.5 M700 681 L702.9 681.8 L705.8 682.6 L708.8 683.4 L711.7 684.1 L714.6 684.9 L717.5 685.7 L720.4 686.5 L723.4 687.2 L726.3 688 L729.2 688.8 M774.5 697.7 L777.4 698.4 L780.4 699 L783.3 699.7 L786.3 700.4 L789.3 701.1 L792.2 701.7 L795.2 702.4 L798.2 703.1 L799.1 703.3 M846.3 720.3 L848.8 722.1 L851.2 723.9 L853.6 725.6 L856.1 727.4 L858.5 729.1 L861 730.9 L863.4 732.6 L865.8 734.4 L868.3 736.2 L868.7 736.5 M840.9 770.8 L838.3 772.4 L835.7 774 L833.1 775.6 L830.6 777.2 L828 778.8 L825.4 780.3 L822.8 781.9 L820.7 783.2 M776.3 804.4 L773.7 806 L771.2 807.5 L768.6 809.1 L766 810.7 L763.4 812.2 L760.8 813.8 L758.2 815.4 L756 816.7 M715.7 837.1 L713 838.5 L710.2 839.9 L707.5 841.2 L704.8 842.6 L702.1 844 L699.4 845.3 L696.6 846.7 L693.9 848.1 L693.5 848.3 M654 876.9 L652.1 879.2 L650.1 881.5 L648.2 883.8 L646.2 886.1 L644.3 888.4 L642.3 890.6 L640.4 892.9 L639.1 894.4 M630.1 935.5 L630.2 938.5 L630.3 941.5 L630.5 944.5 L630.6 947.5 L630.7 950.5 L631.3 953.5 L632.2 956.4 L633.1 959.3 L633.7 961.2 M657 994.4 L659.5 996.1 L661.9 997.9 L664.4 999.7 L666.9 1001.4 L669.3 1003.2 L671.8 1004.9 L674.3 1006.7 L676.7 1008.4 L678 1009.3 M715.2 1030.6 L717.9 1032 L720.6 1033.4 L723.3 1034.7 L726 1036.1 L728.7 1037.4 L731.4 1038.7 L734.1 1040.1 L736.8 1041.4 L739.5 1042.8 L741.3 1043.7 M782.1 1066.7 L784.8 1068 L787.6 1069.2 L790.3 1070.5 L793 1071.7 L795.8 1073 L798.5 1074.2 L801.3 1075.4 L804 1076.7 L806.7 1077.9 L807.2 1078.1 M848.3 1102.3 L850.7 1104.1 L853.1 1105.9 L855.5 1107.7 L857.9 1109.5 L860.3 1111.3 L862.8 1113.1 L865.2 1114.9 L867.6 1116.7 L870 1118.5 L870.4 1118.8 M842.1 1150.3 L839.3 1151.3 L836.4 1152.3 L833.6 1153.3 L830.7 1154.3 L827.9 1155.2 L825 1156.2 L822.1 1157.2 L819.3 1158.2 L818.3 1158.5 M773 1170.6 L770 1171.3 L767.1 1171.8 L764.1 1172.4 L761.1 1173 L758.2 1173.5 L755.2 1174.1 L752.3 1174.6 L749.3 1175.2 L746.4 1175.7 L743.4 1176.3 L740.5 1176.8 L737.5 1177.4 L735.6 1177.7 M688.7 1189.6 L685.8 1190.2 L682.8 1190.8 L679.9 1191.4 L676.9 1192.1 L674 1192.7 L671 1193.3 L668.1 1193.9 L665.1 1194.6 L662.2 1195.2 M616.8 1209.1 L613.9 1209.9 L611 1210.7 L608.2 1211.8 L605.4 1212.9 L602.6 1214.1 L599.8 1215.2 L597.1 1216.4 L594.3 1217.5 L591.6 1218.8 L591.1 1219 M548.2 1248 L547.2 1250.5 L547.6 1253.5 L548 1256.5 L548.4 1259.5 L548.8 1262.6 L549.2 1265.6 L549.6 1268.6 L549.8 1270.1 M557.4 1313 L557.7 1316 L557.9 1319 L557.6 1322 L557.1 1325 L556.5 1328 L555.9 1331 L555.4 1334 L554.8 1337 L554.6 1338 M528 1375.4 L526 1377.6 L524 1379.9 L522 1382.2 L520 1384.5 L518 1386.7 L516 1389 L513.9 1391.2 L512.5 1392.7 M481.3 1427.6 L479.7 1430.2 L478.2 1432.8 L476.7 1435.5 L475.2 1438.1 L473.6 1440.7 L472.1 1443.4 L471.1 1445.1 M461.9 1485 L461.6 1488 L461.4 1491 L461.2 1494 L461 1497 L461.2 1500 L461.4 1503 L461.6 1505.5 M469.1 1553.4 L469.7 1556.4 L470.2 1559.3 L470.7 1562.3 L471.2 1565.2 L471.7 1568.2 L472.3 1571.1 L472.8 1574.1 L473 1575.1 M473.7 1624.3 L473.1 1627.3 L472.4 1630.2 L471.8 1633.2 L471.2 1636.2 L470.6 1639.1 L470 1642.1 L469.6 1644 M442.8 1683.7 L440.6 1685.7 L438.3 1687.7 L436.1 1689.7 L433.9 1691.7 L431.6 1693.7 L429.4 1695.7 L426.8 1697.2 L425.4 1697.8 M387.4 1716.5 L384.6 1717.6 L381.8 1718.7 L379 1719.8 L376.2 1720.9 L373.4 1722 L370.6 1723.1 L367.8 1724.1 L365 1725.2 L363.1 1725.9 M317.6 1736.9 L314.7 1737.6 L311.8 1738.3 L308.8 1738.9 L305.9 1739.6 L303 1740.3 L300.1 1741 L297.1 1741.6 L294.2 1742.3 L292.7 1742.6"/>
<path class="mk" d="M270.9 124.5h36 M342.9 141.8h36 M379.4 157.6h36 M413.6 182.4h36 M434 207.5h36 M446.8 232.5h36 M454.9 257.6h36 M460 282.7h36 M464.2 307.7h36 M470.5 332.7h36 M480 357.7h36 M495.6 382.8h36 M520.4 407.8h36 M555.9 432.8h36 M601.7 457.8h36 M649.8 482.8h36 M688.2 507.9h36 M704.7 532.9h36 M693.1 557.9h36 M658 582.9h36 M615.9 608h36 M592.6 633h36 M615 658h36 M696.3 683h36 M798.1 708.1h36 M776.7 733.1h36 M611.5 758.1h36 M513.4 783.1h36 M465.4 808.1h36 M417.3 833.1h36 M368.9 858.1h36 M342.2 883.1h36 M332.9 908.1h36 M332.9 933.1h36 M332.9 958.1h36 M342.2 983.1h36 M368.9 1008.1h36 M417.3 1033.1h36 M465.4 1058.1h36 M513.4 1083.1h36 M611.5 1108.1h36 M776.7 1133.1h36 M798.1 1158.1h36 M696.3 1183.2h36 M615 1208.2h36 M592.6 1233.2h36 M615.9 1258.2h36 M658 1283.3h36 M693.1 1308.3h36 M704.7 1333.3h36 M688.2 1358.3h36 M649.8 1383.4h36 M601.7 1408.4h36 M555.9 1433.4h36 M520.4 1458.4h36 M495.6 1483.4h36 M480 1508.5h36 M470.5 1533.5h36 M464.2 1558.5h36 M460 1583.5h36 M454.9 1608.6h36 M446.8 1633.7h36 M434 1658.7h36 M413.6 1683.8h36 M379.4 1708.6h36 M342.9 1724.4h36 M270.9 1741.7h36"/>
<path class="mv" d="M288.9 106.5v36 M360.9 123.8v36 M397.4 139.6v36 M431.6 164.4v36 M452 189.5v36 M464.8 214.5v36 M472.9 239.6v36 M478 264.7v36 M482.2 289.7v36 M488.5 314.7v36 M498 339.7v36 M513.6 364.8v36 M538.4 389.8v36 M573.9 414.8v36 M619.7 439.8v36 M667.8 464.8v36 M706.2 489.9v36 M722.7 514.9v36 M711.1 539.9v36 M676 564.9v36 M633.9 590v36 M610.6 615v36 M633 640v36 M714.3 665v36 M816.1 690.1v36 M794.7 715.1v36 M629.5 740.1v36 M531.4 765.1v36 M483.4 790.1v36 M435.3 815.1v36 M386.9 840.1v36 M360.2 865.1v36 M350.9 890.1v36 M350.9 915.1v36 M350.9 940.1v36 M360.2 965.1v36 M386.9 990.1v36 M435.3 1015.1v36 M483.4 1040.1v36 M531.4 1065.1v36 M629.5 1090.1v36 M794.7 1115.1v36 M816.1 1140.1v36 M714.3 1165.2v36 M633 1190.2v36 M610.6 1215.2v36 M633.9 1240.2v36 M676 1265.3v36 M711.1 1290.3v36 M722.7 1315.3v36 M706.2 1340.3v36 M667.8 1365.4v36 M619.7 1390.4v36 M573.9 1415.4v36 M538.4 1440.4v36 M513.6 1465.4v36 M498 1490.5v36 M488.5 1515.5v36 M482.2 1540.5v36 M478 1565.5v36 M472.9 1590.6v36 M464.8 1615.7v36 M452 1640.7v36 M431.6 1665.8v36 M397.4 1690.6v36 M360.9 1706.4v36 M288.9 1723.7v36"/>
</g>
<g clip-path="url(#cp2)">
<path class="c" stroke="#000" d="M994 125.6 C995.5 125.7 1000 125.9 1003 126.1 C1006 126.3 1009 126.4 1012 126.6 C1015 126.7 1018 126.9 1021 127 C1024 127.1 1027 127.3 1030 127.4 C1033 127.5 1036 127.7 1039 127.8 C1042 127.9 1045 128 1048 128.1 C1051 128.3 1054 128.4 1057 128.5 C1060 128.6 1063 128.7 1066 128.8 C1069 128.9 1072 129 1075 129.1 C1078 129.2 1081 129.3 1084 129.4 C1087 129.5 1090 129.6 1093 129.7 C1096 129.8 1099 129.8 1102 129.9 C1105.1 130 1108.1 130.1 1111.1 130.2 C1114.1 130.3 1117.1 130.4 1120.1 130.5 C1123.1 130.6 1126.1 130.6 1129.1 130.7 C1132.1 130.8 1135.1 130.9 1138.1 131 C1141.1 131.1 1144.1 131.2 1147.1 131.3 C1150.1 131.4 1153.1 131.5 1156.1 131.6 C1159.1 131.7 1162.1 131.8 1165.1 131.9 C1168.1 132 1171.1 132.1 1174.1 132.2 C1177.1 132.3 1180.1 132.4 1183.1 132.5 C1186.1 132.6 1189.1 132.8 1192.1 132.9 C1195.1 133 1198.1 133.1 1201.1 133.3 C1204.1 133.4 1207.1 133.5 1210.1 133.7 C1213.1 133.8 1216.1 134 1219.1 134.1 C1222.1 134.3 1225.1 134.5 1228.1 134.6 C1231.1 134.8 1234.1 135 1237.1 135.2 C1240.1 135.3 1243.1 135.5 1246.1 135.7 C1249.1 135.9 1252.1 136.1 1255.1 136.3 C1258.1 136.5 1261.1 136.8 1264.1 137 C1267.1 137.2 1270.1 137.4 1273.1 137.7 C1276.1 137.9 1279.1 138.2 1282.1 138.4 C1285 138.7 1288 139 1291 139.3 C1294 139.5 1297 139.8 1300 140.1 C1303 140.4 1306 140.7 1309 141.1 C1311.9 141.4 1314.9 141.7 1317.9 142.1 C1320.9 142.4 1323.9 142.8 1326.9 143.1 C1329.8 143.5 1332.8 143.9 1335.8 144.3 C1338.8 144.6 1341.8 145 1344.7 145.5 C1347.7 145.9 1350.7 146.3 1353.7 146.7 C1356.6 147.2 1359.6 147.6 1362.6 148.1 C1365.5 148.5 1368.5 149 1371.5 149.5 C1374.4 150 1377.4 150.5 1380.4 151 C1383.3 151.5 1386.3 152 1389.2 152.6 C1392.2 153.1 1395.1 153.7 1398.1 154.2 C1401 154.8 1404 155.4 1406.9 156 C1409.9 156.6 1412.8 157.2 1415.8 157.8 C1418.7 158.4 1421.6 159.1 1424.6 159.7 C1427.5 160.4 1430.4 161 1433.3 161.7 C1436.3 162.5 1439.2 163.2 1442.1 163.9 C1445 164.7 1447.9 165.5 1450.8 166.3 C1453.7 167.2 1456.5 168 1459.4 168.9 C1462.2 169.9 1465.1 170.8 1467.9 171.8 C1470.7 172.8 1473.6 173.9 1476.3 175 C1479.1 176.2 1481.9 177.4 1484.6 178.6 C1487.3 179.9 1490 181.2 1492.7 182.6 C1495.3 184 1498 185.5 1500.5 187.1 C1503.1 188.7 1505.6 190.3 1508 192.1 C1510.4 193.9 1512.8 195.7 1515.1 197.7 C1517.4 199.6 1519.6 201.7 1521.7 203.8 C1523.7 206 1525.8 208.2 1527.6 210.6 C1529.5 212.9 1531.3 215.4 1532.9 217.9 C1534.5 220.4 1536 223 1537.4 225.7 C1538.7 228.4 1540 231.1 1541.1 233.9 C1542.3 236.6 1543.3 239.5 1544.3 242.3 C1545.3 245.2 1546.1 248 1546.9 250.9 C1547.7 253.8 1548.5 256.7 1549.1 259.7 C1549.8 262.6 1550.4 265.5 1551 268.5 C1551.5 271.4 1552 274.4 1552.5 277.4 C1552.9 280.3 1553.4 283.3 1553.8 286.3 C1554.2 289.3 1554.5 292.3 1554.8 295.2 C1555.2 298.2 1555.5 301.2 1555.8 304.2 C1556.1 307.2 1556.3 310.2 1556.6 313.2 C1556.8 316.2 1557 319.2 1557.2 322.2 C1557.3 325.2 1557.5 328.2 1557.5 331.2 C1557.6 334.2 1557.6 337.2 1557.6 340.2 C1557.5 343.2 1557.4 346.2 1557.2 349.2 C1557 352.2 1556.8 355.2 1556.4 358.2 C1556.1 361.2 1555.6 364.1 1555.1 367.1 C1554.5 370 1553.9 373 1553.2 375.9 C1552.4 378.8 1551.6 381.7 1550.7 384.5 C1549.8 387.4 1548.8 390.2 1547.7 393 C1546.6 395.9 1545.5 398.6 1544.2 401.4 C1543 404.1 1541.7 406.8 1540.3 409.5 C1539 412.2 1537.5 414.8 1536.1 417.4 C1534.6 420 1533 422.6 1531.4 425.1 C1529.8 427.7 1528.2 430.2 1526.5 432.7 C1524.8 435.1 1523 437.6 1521.2 440 C1519.4 442.4 1517.6 444.8 1515.7 447.1 C1513.8 449.5 1511.9 451.8 1509.9 454.1 C1508 456.3 1506 458.6 1504 460.8 C1501.9 463 1499.9 465.2 1497.8 467.4 C1495.7 469.5 1493.6 471.6 1491.4 473.7 C1489.3 475.8 1487.1 477.9 1484.9 479.9 C1482.7 482 1480.4 484 1478.2 486 C1475.9 487.9 1473.6 489.9 1471.3 491.8 C1469 493.7 1466.7 495.6 1464.3 497.5 C1462 499.4 1459.6 501.2 1457.2 503 C1454.8 504.8 1452.4 506.6 1450 508.4 C1447.6 510.2 1445.1 511.9 1442.6 513.6 C1440.2 515.3 1437.7 517 1435.2 518.7 C1432.7 520.4 1430.2 522.1 1427.7 523.7 C1425.2 525.3 1422.6 526.9 1420.1 528.5 C1417.6 530.1 1415 531.7 1412.4 533.3 C1409.9 534.9 1407.3 536.4 1404.7 538 C1402.2 539.5 1399.6 541 1397 542.5 C1394.4 544 1391.8 545.5 1389.2 547 C1386.6 548.5 1383.9 550 1381.3 551.5 C1378.7 552.9 1376.1 554.4 1373.4 555.8 C1370.8 557.3 1368.2 558.7 1365.5 560.2 C1362.9 561.6 1360.3 563.1 1357.6 564.5 C1355 565.9 1352.3 567.4 1349.7 568.8 C1347.1 570.2 1344.4 571.6 1341.8 573.1 C1339.1 574.5 1336.5 575.9 1333.9 577.4 C1331.2 578.8 1328.6 580.2 1325.9 581.7 C1323.3 583.1 1320.7 584.5 1318 586 C1315.4 587.4 1312.8 588.9 1310.1 590.3 C1307.5 591.8 1304.9 593.3 1302.3 594.7 C1299.7 596.2 1297 597.7 1294.4 599.2 C1291.8 600.6 1289.2 602.1 1286.6 603.6 C1284 605.1 1281.4 606.6 1278.8 608.1 C1276.1 609.6 1273.5 611 1270.9 612.5 C1268.3 614 1265.7 615.5 1263.1 617 C1260.5 618.4 1257.9 619.9 1255.2 621.4 C1252.6 622.9 1250 624.3 1247.4 625.8 C1244.7 627.3 1242.1 628.7 1239.5 630.2 C1236.9 631.6 1234.2 633.1 1231.6 634.5 C1228.9 635.9 1226.3 637.4 1223.6 638.8 C1221 640.2 1218.3 641.6 1215.7 643 C1213 644.4 1210.4 645.8 1207.7 647.2 C1205.1 648.6 1202.4 650 1199.8 651.4 C1197.1 652.8 1194.5 654.3 1191.9 655.7 C1189.2 657.2 1186.6 658.7 1184 660.2 C1181.5 661.8 1178.9 663.3 1176.4 665 C1173.8 666.6 1171.3 668.2 1168.9 669.9 C1166.4 671.7 1164 673.4 1161.6 675.2 C1159.2 677.1 1156.8 679 1154.6 680.9 C1152.3 682.9 1150.1 684.9 1147.9 687 C1145.8 689.1 1143.7 691.2 1141.7 693.5 C1139.7 695.7 1137.7 698 1135.9 700.4 C1134.1 702.8 1132.4 705.3 1130.8 707.8 C1129.2 710.4 1127.7 713 1126.4 715.7 C1125.1 718.4 1123.9 721.2 1122.9 724 C1121.9 726.8 1121.1 729.7 1120.4 732.6 C1119.6 735.5 1119.1 738.5 1118.6 741.5 C1118.1 744.4 1117.7 747.4 1117.4 750.4 C1117 753.4 1116.7 756.4 1116.5 759.4 C1116.2 762.4 1116 765.3 1115.8 768.3 C1115.7 771.3 1115.6 774.3 1115.5 777.4 C1115.4 780.4 1115.3 783.4 1115.2 786.4 C1115.2 789.4 1115.2 792.4 1115.1 795.4 C1115.1 798.4 1115.1 801.4 1115.1 804.4 C1115.1 807.4 1115.1 810.4 1115.1 813.4 C1115.1 816.4 1115.1 819.4 1115.1 822.4 C1115.1 825.4 1115.1 828.4 1115.2 831.4 C1115.2 834.4 1115.2 837.4 1115.2 840.4 C1115.2 843.4 1115.3 846.4 1115.3 849.4 C1115.3 852.4 1115.3 855.4 1115.3 858.5 C1115.4 861.5 1115.4 864.5 1115.4 867.5 C1115.4 870.5 1115.5 873.5 1115.5 876.5 C1115.5 879.5 1115.5 882.5 1115.6 885.5 C1115.6 888.5 1115.6 891.5 1115.6 894.5 C1115.6 897.5 1115.6 900.5 1115.7 903.5 C1115.7 906.5 1115.7 909.5 1115.7 912.5 C1115.7 915.5 1115.7 918.5 1115.7 921.5 C1115.7 924.5 1115.6 927.5 1115.6 930.5 C1115.6 933.5 1115.6 936.6 1115.6 939.6 C1115.6 942.6 1115.7 945.6 1115.7 948.6 C1115.7 951.6 1115.7 954.6 1115.7 957.6 C1115.7 960.6 1115.7 963.6 1115.7 966.6 C1115.6 969.6 1115.6 972.6 1115.6 975.6 C1115.6 978.6 1115.6 981.6 1115.6 984.6 C1115.5 987.6 1115.5 990.6 1115.5 993.6 C1115.5 996.6 1115.4 999.6 1115.4 1002.6 C1115.4 1005.6 1115.4 1008.6 1115.3 1011.6 C1115.3 1014.7 1115.3 1017.7 1115.3 1020.7 C1115.3 1023.7 1115.2 1026.7 1115.2 1029.7 C1115.2 1032.7 1115.2 1035.7 1115.2 1038.7 C1115.1 1041.7 1115.1 1044.7 1115.1 1047.7 C1115.1 1050.7 1115.1 1053.7 1115.1 1056.7 C1115.1 1059.7 1115.1 1062.7 1115.1 1065.7 C1115.1 1068.7 1115.1 1071.7 1115.1 1074.7 C1115.2 1077.7 1115.2 1080.7 1115.2 1083.7 C1115.3 1086.7 1115.4 1089.7 1115.5 1092.7 C1115.6 1095.8 1115.7 1098.8 1115.8 1101.8 C1116 1104.8 1116.2 1107.7 1116.5 1110.7 C1116.7 1113.7 1117 1116.7 1117.4 1119.7 C1117.7 1122.7 1118.1 1125.7 1118.6 1128.6 C1119.1 1131.6 1119.6 1134.6 1120.4 1137.5 C1121.1 1140.4 1121.9 1143.3 1122.9 1146.1 C1123.9 1148.9 1125.1 1151.7 1126.4 1154.4 C1127.7 1157.1 1129.2 1159.7 1130.8 1162.3 C1132.4 1164.8 1134.1 1167.3 1135.9 1169.7 C1137.7 1172.1 1139.7 1174.4 1141.7 1176.6 C1143.7 1178.9 1145.8 1181 1147.9 1183.1 C1150.1 1185.2 1152.3 1187.2 1154.6 1189.2 C1156.8 1191.1 1159.2 1193 1161.6 1194.9 C1164 1196.7 1166.4 1198.4 1168.9 1200.2 C1171.3 1201.9 1173.8 1203.5 1176.4 1205.1 C1178.9 1206.8 1181.5 1208.3 1184 1209.9 C1186.6 1211.4 1189.2 1212.9 1191.9 1214.4 C1194.5 1215.8 1197.1 1217.3 1199.8 1218.7 C1202.4 1220.1 1205.1 1221.5 1207.7 1222.9 C1210.4 1224.3 1213 1225.7 1215.7 1227.1 C1218.3 1228.5 1221 1229.9 1223.6 1231.3 C1226.3 1232.7 1228.9 1234.2 1231.6 1235.6 C1234.2 1237 1236.9 1238.5 1239.5 1239.9 C1242.1 1241.4 1244.7 1242.8 1247.4 1244.3 C1250 1245.8 1252.6 1247.2 1255.2 1248.7 C1257.9 1250.2 1260.5 1251.7 1263.1 1253.1 C1265.7 1254.6 1268.3 1256.1 1270.9 1257.6 C1273.5 1259.1 1276.1 1260.5 1278.8 1262 C1281.4 1263.5 1284 1265 1286.6 1266.5 C1289.2 1268 1291.8 1269.5 1294.4 1270.9 C1297 1272.4 1299.7 1273.9 1302.3 1275.4 C1304.9 1276.8 1307.5 1278.3 1310.1 1279.8 C1312.8 1281.2 1315.4 1282.7 1318 1284.1 C1320.7 1285.6 1323.3 1287 1325.9 1288.4 C1328.6 1289.9 1331.2 1291.3 1333.9 1292.7 C1336.5 1294.2 1339.1 1295.6 1341.8 1297 C1344.4 1298.5 1347.1 1299.9 1349.7 1301.3 C1352.3 1302.7 1355 1304.2 1357.6 1305.6 C1360.3 1307 1362.9 1308.5 1365.5 1309.9 C1368.2 1311.4 1370.8 1312.8 1373.4 1314.3 C1376.1 1315.7 1378.7 1317.2 1381.3 1318.6 C1383.9 1320.1 1386.6 1321.6 1389.2 1323.1 C1391.8 1324.6 1394.4 1326.1 1397 1327.6 C1399.6 1329.1 1402.2 1330.6 1404.7 1332.1 C1407.3 1333.7 1409.9 1335.2 1412.4 1336.8 C1415 1338.4 1417.6 1340 1420.1 1341.6 C1422.6 1343.2 1425.2 1344.8 1427.7 1346.4 C1430.2 1348 1432.7 1349.7 1435.2 1351.4 C1437.7 1353.1 1440.2 1354.8 1442.6 1356.5 C1445.1 1358.2 1447.6 1359.9 1450 1361.7 C1452.4 1363.5 1454.8 1365.3 1457.2 1367.1 C1459.6 1368.9 1462 1370.7 1464.3 1372.6 C1466.7 1374.5 1469 1376.4 1471.3 1378.3 C1473.6 1380.2 1475.9 1382.2 1478.2 1384.1 C1480.4 1386.1 1482.7 1388.1 1484.9 1390.2 C1487.1 1392.2 1489.3 1394.3 1491.4 1396.4 C1493.6 1398.5 1495.7 1400.6 1497.8 1402.7 C1499.9 1404.9 1501.9 1407.1 1504 1409.3 C1506 1411.5 1508 1413.8 1509.9 1416 C1511.9 1418.3 1513.8 1420.6 1515.7 1423 C1517.6 1425.3 1519.4 1427.7 1521.2 1430.1 C1523 1432.5 1524.8 1435 1526.5 1437.4 C1528.2 1439.9 1529.8 1442.4 1531.4 1445 C1533 1447.5 1534.6 1450.1 1536.1 1452.7 C1537.5 1455.3 1539 1457.9 1540.3 1460.6 C1541.7 1463.3 1543 1466 1544.2 1468.7 C1545.5 1471.5 1546.6 1474.2 1547.7 1477.1 C1548.8 1479.9 1549.8 1482.7 1550.7 1485.6 C1551.6 1488.4 1552.4 1491.3 1553.2 1494.2 C1553.9 1497.1 1554.5 1500.1 1555.1 1503 C1555.6 1506 1556.1 1508.9 1556.4 1511.9 C1556.8 1514.9 1557 1517.9 1557.2 1520.9 C1557.4 1523.9 1557.5 1526.9 1557.6 1529.9 C1557.6 1532.9 1557.6 1535.9 1557.5 1538.9 C1557.5 1541.9 1557.3 1544.9 1557.2 1547.9 C1557 1550.9 1556.8 1553.9 1556.6 1556.9 C1556.3 1559.9 1556.1 1562.9 1555.8 1565.9 C1555.5 1568.9 1555.2 1571.9 1554.8 1574.9 C1554.5 1577.8 1554.2 1580.8 1553.8 1583.8 C1553.4 1586.8 1552.9 1589.8 1552.5 1592.7 C1552 1595.7 1551.5 1598.7 1551 1601.6 C1550.4 1604.6 1549.8 1607.5 1549.1 1610.4 C1548.5 1613.4 1547.7 1616.3 1546.9 1619.2 C1546.1 1622.1 1545.3 1624.9 1544.3 1627.8 C1543.3 1630.6 1542.3 1633.5 1541.1 1636.2 C1540 1639 1538.7 1641.7 1537.4 1644.4 C1536 1647.1 1534.5 1649.7 1532.9 1652.2 C1531.3 1654.7 1529.5 1657.2 1527.6 1659.5 C1525.8 1661.9 1523.7 1664.1 1521.7 1666.3 C1519.6 1668.4 1517.4 1670.5 1515.1 1672.4 C1512.8 1674.4 1510.4 1676.2 1508 1678 C1505.6 1679.8 1503.1 1681.4 1500.5 1683 C1498 1684.6 1495.3 1686.1 1492.7 1687.5 C1490 1688.9 1487.3 1690.2 1484.6 1691.5 C1481.9 1692.7 1479.1 1693.9 1476.3 1695.1 C1473.6 1696.2 1470.7 1697.3 1467.9 1698.3 C1465.1 1699.3 1462.2 1700.2 1459.4 1701.2 C1456.5 1702.1 1453.7 1702.9 1450.8 1703.8 C1447.9 1704.6 1445 1705.4 1442.1 1706.2 C1439.2 1706.9 1436.3 1707.6 1433.3 1708.4 C1430.4 1709.1 1427.5 1709.7 1424.6 1710.4 C1421.6 1711 1418.7 1711.7 1415.8 1712.3 C1412.8 1712.9 1409.9 1713.5 1406.9 1714.1 C1404 1714.7 1401 1715.3 1398.1 1715.9 C1395.1 1716.4 1392.2 1717 1389.2 1717.5 C1386.3 1718.1 1383.3 1718.6 1380.4 1719.1 C1377.4 1719.6 1374.4 1720.1 1371.5 1720.6 C1368.5 1721.1 1365.5 1721.6 1362.6 1722 C1359.6 1722.5 1356.6 1722.9 1353.7 1723.4 C1350.7 1723.8 1347.7 1724.2 1344.7 1724.6 C1341.8 1725.1 1338.8 1725.5 1335.8 1725.8 C1332.8 1726.2 1329.8 1726.6 1326.9 1727 C1323.9 1727.3 1320.9 1727.7 1317.9 1728 C1314.9 1728.4 1311.9 1728.7 1309 1729 C1306 1729.4 1303 1729.7 1300 1730 C1297 1730.3 1294 1730.6 1291 1730.8 C1288 1731.1 1285 1731.4 1282.1 1731.7 C1279.1 1731.9 1276.1 1732.2 1273.1 1732.4 C1270.1 1732.7 1267.1 1732.9 1264.1 1733.1 C1261.1 1733.3 1258.1 1733.6 1255.1 1733.8 C1252.1 1734 1249.1 1734.2 1246.1 1734.4 C1243.1 1734.6 1240.1 1734.8 1237.1 1734.9 C1234.1 1735.1 1231.1 1735.3 1228.1 1735.5 C1225.1 1735.6 1222.1 1735.8 1219.1 1736 C1216.1 1736.1 1213.1 1736.3 1210.1 1736.4 C1207.1 1736.6 1204.1 1736.7 1201.1 1736.8 C1198.1 1737 1195.1 1737.1 1192.1 1737.2 C1189.1 1737.3 1186.1 1737.5 1183.1 1737.6 C1180.1 1737.7 1177.1 1737.8 1174.1 1737.9 C1171.1 1738 1168.1 1738.1 1165.1 1738.2 C1162.1 1738.3 1159.1 1738.4 1156.1 1738.5 C1153.1 1738.6 1150.1 1738.7 1147.1 1738.8 C1144.1 1738.9 1141.1 1739 1138.1 1739.1 C1135.1 1739.2 1132.1 1739.3 1129.1 1739.4 C1126.1 1739.5 1123.1 1739.5 1120.1 1739.6 C1117.1 1739.7 1114.1 1739.8 1111.1 1739.9 C1108.1 1740 1105.1 1740.1 1102 1740.2 C1099 1740.3 1096 1740.3 1093 1740.4 C1090 1740.5 1087 1740.6 1084 1740.7 C1081 1740.8 1078 1740.9 1075 1741 C1072 1741.1 1069 1741.2 1066 1741.3 C1063 1741.4 1060 1741.5 1057 1741.6 C1054 1741.7 1051 1741.8 1048 1742 C1045 1742.1 1042 1742.2 1039 1742.3 C1036 1742.4 1033 1742.6 1030 1742.7 C1027 1742.8 1024 1743 1021 1743.1 C1018 1743.2 1015 1743.4 1012 1743.5 C1009 1743.7 1006 1743.8 1003 1744 C1000 1744.2 995.5 1744.4 994 1744.5"/>
<path class="c" stroke="#0000ff" d="M994 125.6 C995.5 125.8 999.9 126.6 1002.9 127.1 C1005.9 127.5 1008.9 128 1011.9 128.4 C1014.8 128.8 1017.8 129.2 1020.8 129.6 C1023.8 130 1026.8 130.4 1029.8 130.8 C1032.7 131.1 1035.7 131.5 1038.7 131.9 C1041.7 132.3 1044.7 132.6 1047.7 133 C1050.7 133.3 1053.7 133.7 1056.7 134.1 C1059.6 134.5 1062.6 134.8 1065.6 135.2 C1068.6 135.6 1071.6 136 1074.6 136.4 C1077.6 136.8 1080.5 137.2 1083.5 137.6 C1086.5 138.1 1089.5 138.5 1092.5 139 C1095.4 139.4 1098.4 139.9 1101.4 140.4 C1104.3 140.9 1107.3 141.4 1110.3 142 C1113.2 142.5 1116.2 143.1 1119.1 143.7 C1122.1 144.3 1125 144.9 1128 145.6 C1130.9 146.3 1133.8 147 1136.7 147.7 C1139.7 148.5 1142.6 149.2 1145.5 150 C1148.4 150.9 1151.3 151.7 1154.1 152.6 C1157 153.5 1159.9 154.5 1162.7 155.5 C1165.5 156.4 1168.4 157.5 1171.2 158.6 C1174 159.7 1176.8 160.8 1179.5 162 C1182.3 163.2 1185 164.5 1187.7 165.8 C1190.4 167.1 1193.1 168.5 1195.8 169.9 C1198.4 171.3 1201.1 172.8 1203.7 174.3 C1206.2 175.9 1208.8 177.5 1211.3 179.1 C1213.8 180.7 1216.3 182.4 1218.8 184.2 C1221.2 185.9 1223.7 187.7 1226 189.6 C1228.4 191.5 1230.7 193.4 1233 195.3 C1235.3 197.3 1237.5 199.3 1239.7 201.4 C1241.9 203.4 1244.1 205.5 1246.2 207.7 C1248.3 209.9 1250.3 212.1 1252.3 214.3 C1254.3 216.6 1256.2 218.9 1258.1 221.3 C1259.9 223.6 1261.8 226 1263.5 228.5 C1265.3 230.9 1266.9 233.4 1268.6 236 C1270.2 238.5 1271.7 241.1 1273.2 243.7 C1274.7 246.3 1276.1 249 1277.4 251.7 C1278.8 254.4 1280 257.1 1281.2 259.9 C1282.4 262.7 1283.5 265.5 1284.6 268.3 C1285.6 271.1 1286.6 274 1287.5 276.8 C1288.4 279.7 1289.2 282.6 1290 285.5 C1290.8 288.4 1291.6 291.3 1292.2 294.3 C1292.9 297.2 1293.6 300.1 1294.1 303.1 C1294.7 306 1295.2 309 1295.7 312 C1296.2 315 1296.7 317.9 1297.1 320.9 C1297.5 323.9 1297.9 326.9 1298.2 329.9 C1298.6 332.9 1298.9 335.9 1299.1 338.9 C1299.4 341.9 1299.7 344.9 1299.9 347.9 C1300.1 350.9 1300.3 353.9 1300.5 356.9 C1300.7 359.9 1300.8 362.9 1301 365.9 C1301.1 368.9 1301.2 371.9 1301.4 374.9 C1301.5 377.9 1301.6 380.9 1301.6 384 C1301.7 387 1301.8 390 1301.8 393 C1301.8 396 1301.9 399 1301.9 402 C1301.9 405 1301.8 408 1301.8 411 C1301.7 414.1 1301.7 417.1 1301.6 420.1 C1301.5 423.1 1301.4 426.1 1301.3 429.1 C1301.1 432.1 1301 435.1 1300.8 438.1 C1300.6 441.1 1300.4 444.1 1300.2 447.1 C1300 450.1 1299.7 453.1 1299.4 456.1 C1299.2 459.1 1298.9 462.1 1298.5 465.1 C1298.2 468.1 1297.8 471.1 1297.4 474.1 C1297.1 477.1 1296.7 480.1 1296.2 483 C1295.8 486 1295.3 489 1294.8 492 C1294.4 494.9 1293.9 497.9 1293.3 500.9 C1292.8 503.8 1292.2 506.8 1291.7 509.8 C1291.1 512.7 1290.5 515.7 1289.9 518.6 C1289.3 521.6 1288.6 524.5 1288 527.4 C1287.3 530.4 1286.6 533.3 1285.9 536.2 C1285.3 539.2 1284.5 542.1 1283.8 545 C1283.1 547.9 1282.3 550.9 1281.5 553.8 C1280.8 556.7 1280 559.6 1279.2 562.5 C1278.4 565.4 1277.6 568.3 1276.7 571.2 C1275.9 574.1 1275 576.9 1274.2 579.8 C1273.3 582.7 1272.4 585.6 1271.5 588.5 C1270.6 591.3 1269.7 594.2 1268.8 597.1 C1267.8 599.9 1266.9 602.8 1265.9 605.7 C1265 608.5 1264 611.4 1263 614.2 C1262.1 617.1 1261.1 619.9 1260.1 622.7 C1259.1 625.6 1258 628.4 1257 631.2 C1256 634.1 1255 636.9 1253.9 639.7 C1252.9 642.6 1251.8 645.4 1250.7 648.2 C1249.7 651 1248.6 653.8 1247.5 656.6 C1246.4 659.4 1245.3 662.2 1244.2 665 C1243.1 667.8 1242 670.6 1240.9 673.4 C1239.8 676.2 1238.7 679 1237.6 681.8 C1236.5 684.6 1235.3 687.4 1234.2 690.2 C1233.1 693 1232 695.8 1230.8 698.6 C1229.7 701.4 1228.6 704.2 1227.5 707 C1226.3 709.8 1225.2 712.6 1224.1 715.4 C1223 718.2 1221.9 721 1220.8 723.8 C1219.7 726.6 1218.6 729.4 1217.5 732.2 C1216.4 735 1215.3 737.8 1214.2 740.6 C1213.1 743.4 1212.1 746.2 1211 749 C1210 751.9 1208.9 754.7 1207.9 757.5 C1206.9 760.3 1205.8 763.2 1204.8 766 C1203.8 768.9 1202.9 771.7 1201.9 774.6 C1200.9 777.4 1200 780.3 1199.1 783.1 C1198.1 786 1197.2 788.9 1196.3 791.7 C1195.4 794.6 1194.6 797.5 1193.7 800.4 C1192.9 803.3 1192.1 806.2 1191.3 809.1 C1190.5 812 1189.7 814.9 1189 817.8 C1188.2 820.7 1187.5 823.7 1186.8 826.6 C1186.1 829.5 1185.5 832.5 1184.8 835.4 C1184.2 838.3 1183.6 841.3 1183 844.2 C1182.4 847.2 1181.9 850.2 1181.3 853.1 C1180.8 856.1 1180.3 859.1 1179.8 862 C1179.4 865 1178.9 868 1178.5 871 C1178.1 874 1177.7 876.9 1177.4 879.9 C1177 882.9 1176.7 885.9 1176.4 888.9 C1176.1 891.9 1175.8 894.9 1175.6 897.9 C1175.3 900.9 1175.1 903.9 1175 906.9 C1174.8 909.9 1174.6 912.9 1174.5 915.9 C1174.4 918.9 1174.3 922 1174.3 925 C1174.2 928 1174.2 931 1174.2 934 C1174.2 937 1174.2 940 1174.3 943 C1174.3 946 1174.4 949.1 1174.5 952.1 C1174.6 955.1 1174.8 958.1 1175 961.1 C1175.1 964.1 1175.3 967.1 1175.6 970.1 C1175.8 973.1 1176.1 976.1 1176.4 979.1 C1176.7 982.1 1177 985.1 1177.4 988.1 C1177.7 991.1 1178.1 994 1178.5 997 C1178.9 1000 1179.4 1003 1179.8 1006 C1180.3 1008.9 1180.8 1011.9 1181.3 1014.9 C1181.9 1017.8 1182.4 1020.8 1183 1023.8 C1183.6 1026.7 1184.2 1029.7 1184.8 1032.6 C1185.5 1035.5 1186.1 1038.5 1186.8 1041.4 C1187.5 1044.3 1188.2 1047.3 1189 1050.2 C1189.7 1053.1 1190.5 1056 1191.3 1058.9 C1192.1 1061.8 1192.9 1064.7 1193.7 1067.6 C1194.6 1070.5 1195.4 1073.4 1196.3 1076.3 C1197.2 1079.1 1198.1 1082 1199.1 1084.9 C1200 1087.7 1200.9 1090.6 1201.9 1093.4 C1202.9 1096.3 1203.8 1099.1 1204.8 1102 C1205.8 1104.8 1206.9 1107.7 1207.9 1110.5 C1208.9 1113.3 1210 1116.1 1211 1119 C1212.1 1121.8 1213.1 1124.6 1214.2 1127.4 C1215.3 1130.2 1216.4 1133 1217.5 1135.8 C1218.6 1138.6 1219.7 1141.4 1220.8 1144.2 C1221.9 1147 1223 1149.8 1224.1 1152.6 C1225.2 1155.4 1226.3 1158.2 1227.5 1161 C1228.6 1163.8 1229.7 1166.6 1230.8 1169.4 C1232 1172.2 1233.1 1175 1234.2 1177.8 C1235.3 1180.6 1236.5 1183.4 1237.6 1186.2 C1238.7 1189 1239.8 1191.8 1240.9 1194.6 C1242 1197.4 1243.1 1200.2 1244.2 1203 C1245.3 1205.8 1246.4 1208.6 1247.5 1211.4 C1248.6 1214.2 1249.7 1217 1250.7 1219.8 C1251.8 1222.6 1252.9 1225.4 1253.9 1228.3 C1255 1231.1 1256 1233.9 1257 1236.8 C1258 1239.6 1259.1 1242.4 1260.1 1245.3 C1261.1 1248.1 1262.1 1250.9 1263 1253.8 C1264 1256.6 1265 1259.5 1265.9 1262.3 C1266.9 1265.2 1267.8 1268.1 1268.8 1270.9 C1269.7 1273.8 1270.6 1276.7 1271.5 1279.5 C1272.4 1282.4 1273.3 1285.3 1274.2 1288.2 C1275 1291.1 1275.9 1293.9 1276.7 1296.8 C1277.6 1299.7 1278.4 1302.6 1279.2 1305.5 C1280 1308.4 1280.8 1311.3 1281.5 1314.2 C1282.3 1317.1 1283.1 1320.1 1283.8 1323 C1284.5 1325.9 1285.3 1328.8 1285.9 1331.8 C1286.6 1334.7 1287.3 1337.6 1288 1340.6 C1288.6 1343.5 1289.3 1346.4 1289.9 1349.4 C1290.5 1352.3 1291.1 1355.3 1291.7 1358.2 C1292.2 1361.2 1292.8 1364.2 1293.3 1367.1 C1293.9 1370.1 1294.4 1373.1 1294.8 1376 C1295.3 1379 1295.8 1382 1296.2 1385 C1296.7 1387.9 1297.1 1390.9 1297.4 1393.9 C1297.8 1396.9 1298.2 1399.9 1298.5 1402.9 C1298.9 1405.9 1299.2 1408.9 1299.4 1411.9 C1299.7 1414.9 1300 1417.9 1300.2 1420.9 C1300.4 1423.9 1300.6 1426.9 1300.8 1429.9 C1301 1432.9 1301.1 1435.9 1301.3 1438.9 C1301.4 1441.9 1301.5 1444.9 1301.6 1447.9 C1301.7 1450.9 1301.7 1453.9 1301.8 1457 C1301.8 1460 1301.9 1463 1301.9 1466 C1301.9 1469 1301.8 1472 1301.8 1475 C1301.8 1478 1301.7 1481 1301.6 1484 C1301.6 1487.1 1301.5 1490.1 1301.4 1493.1 C1301.2 1496.1 1301.1 1499.1 1301 1502.1 C1300.8 1505.1 1300.7 1508.1 1300.5 1511.1 C1300.3 1514.1 1300.1 1517.1 1299.9 1520.1 C1299.7 1523.1 1299.4 1526.1 1299.1 1529.1 C1298.9 1532.1 1298.6 1535.1 1298.2 1538.1 C1297.9 1541.1 1297.5 1544.1 1297.1 1547.1 C1296.7 1550.1 1296.2 1553 1295.7 1556 C1295.2 1559 1294.7 1562 1294.1 1564.9 C1293.6 1567.9 1292.9 1570.8 1292.2 1573.7 C1291.6 1576.7 1290.8 1579.6 1290 1582.5 C1289.2 1585.4 1288.4 1588.3 1287.5 1591.2 C1286.6 1594 1285.6 1596.9 1284.6 1599.7 C1283.5 1602.5 1282.4 1605.3 1281.2 1608.1 C1280 1610.9 1278.8 1613.6 1277.4 1616.3 C1276.1 1619 1274.7 1621.7 1273.2 1624.3 C1271.7 1626.9 1270.2 1629.5 1268.6 1632 C1266.9 1634.6 1265.3 1637.1 1263.5 1639.5 C1261.8 1642 1259.9 1644.4 1258.1 1646.7 C1256.2 1649.1 1254.3 1651.4 1252.3 1653.7 C1250.3 1655.9 1248.3 1658.1 1246.2 1660.3 C1244.1 1662.5 1241.9 1664.6 1239.7 1666.6 C1237.5 1668.7 1235.3 1670.7 1233 1672.7 C1230.7 1674.6 1228.4 1676.5 1226 1678.4 C1223.7 1680.3 1221.2 1682.1 1218.8 1683.8 C1216.3 1685.6 1213.8 1687.3 1211.3 1688.9 C1208.8 1690.5 1206.2 1692.1 1203.7 1693.7 C1201.1 1695.2 1198.4 1696.7 1195.8 1698.1 C1193.1 1699.5 1190.4 1700.9 1187.7 1702.2 C1185 1703.5 1182.3 1704.8 1179.5 1706 C1176.8 1707.2 1174 1708.3 1171.2 1709.4 C1168.4 1710.5 1165.5 1711.6 1162.7 1712.5 C1159.9 1713.5 1157 1714.5 1154.1 1715.4 C1151.3 1716.3 1148.4 1717.1 1145.5 1718 C1142.6 1718.8 1139.7 1719.5 1136.7 1720.3 C1133.8 1721 1130.9 1721.7 1128 1722.4 C1125 1723.1 1122.1 1723.7 1119.1 1724.3 C1116.2 1724.9 1113.2 1725.5 1110.3 1726 C1107.3 1726.6 1104.3 1727.1 1101.4 1727.6 C1098.4 1728.1 1095.4 1728.6 1092.5 1729 C1089.5 1729.5 1086.5 1729.9 1083.5 1730.4 C1080.5 1730.8 1077.6 1731.2 1074.6 1731.6 C1071.6 1732 1068.6 1732.4 1065.6 1732.8 C1062.6 1733.2 1059.6 1733.5 1056.7 1733.9 C1053.7 1734.3 1050.7 1734.7 1047.7 1735 C1044.7 1735.4 1041.7 1735.7 1038.7 1736.1 C1035.7 1736.5 1032.7 1736.9 1029.8 1737.2 C1026.8 1737.6 1023.8 1738 1020.8 1738.4 C1017.8 1738.8 1014.8 1739.2 1011.9 1739.6 C1008.9 1740 1005.9 1740.5 1002.9 1740.9 C999.9 1741.4 995.5 1742.2 994 1742.4"/>
<path class="c" stroke="#ff8000" d="M997.9 126.8 L1001.4 127.1 L1004.5 127.4 L1007.5 127.6 L1010.5 127.9 L1013.5 128.1 L1016.5 128.4 L1019.5 128.6 L1022.5 128.9 L1025.5 129.1 L1028.5 129.4 L1030 129.5 M1077.9 134.4 L1080.9 134.7 L1083.8 135.1 L1086.8 135.5 L1089.8 135.8 L1092.8 136.2 L1095.8 136.6 L1098.8 137 L1100.2 137.2 M1151.1 146.1 L1154.1 146.7 L1157 147.4 L1159.9 148.1 L1162.9 148.7 L1165.8 149.4 L1168.7 150.1 L1171.6 150.9 L1174.5 151.6 L1177.4 152.4 M1223.3 166.9 L1226.1 168 L1228.9 169.1 L1231.7 170.2 L1234.5 171.3 L1237.3 172.5 L1240 173.7 L1242.8 174.9 L1245.6 176.1 L1248.3 177.4 L1250.1 178.2 M1291.7 201.4 L1294.2 203.1 L1296.6 204.8 L1299.1 206.5 L1301.5 208.3 L1304 210 L1306.4 211.8 L1308.8 213.7 L1311.1 215.5 L1313.5 217.4 L1314.3 218 M1348.2 250 L1350.2 252.2 L1352.2 254.4 L1354.2 256.7 L1356.2 259 L1358.1 261.3 L1360 263.6 L1361.9 265.9 L1363.8 268.3 M1388.2 303.2 L1389.7 305.8 L1391.3 308.4 L1392.8 311 L1394.3 313.6 L1395.8 316.2 L1397.2 318.8 L1398.6 321.5 L1400 324.1 L1401.4 326.8 M1419.1 367.2 L1420.2 370 L1421.2 372.9 L1422.1 375.7 L1423.1 378.6 L1424 381.4 L1424.9 384.3 L1425.5 386.2 M1435.8 430.1 L1436.3 433.1 L1436.7 436.1 L1437.1 439 L1437.5 442 L1437.9 445 L1438.2 448 L1438.6 451 L1438.8 454 L1439.1 456.5 M1440.2 502.1 L1440.1 505.1 L1440 508.1 L1439.8 511.1 L1439.6 514.1 L1439.4 517.1 L1439.2 520.1 L1439 523.1 L1438.7 526.1 L1438.7 526.6 M1432.7 569.3 L1432.1 572.2 L1431.6 575.2 L1431 578.1 L1430.4 581.1 L1429.7 584 L1429.1 587 L1428.4 589.9 L1427.7 592.8 L1427 595.8 L1426.3 598.7 L1425.6 601.6 M1413.8 642.6 L1412.9 645.4 L1412 648.3 L1411 651.1 L1410.1 654 L1409.1 656.8 L1408.1 659.7 L1407.1 662.5 L1406.5 664.4 M1392.9 700.6 L1391.8 703.4 L1390.7 706.2 L1389.6 709 L1388.5 711.7 L1387.4 714.5 L1386.2 717.3 L1385.1 720.1 M1369.7 757.7 L1368.6 760.5 L1367.5 763.3 L1366.4 766.1 L1365.3 768.9 L1364.1 771.7 L1363 774.5 L1361.9 777.3 L1360.8 780.1 L1360.5 781 M1344.4 825.8 L1343.5 828.7 L1342.6 831.6 L1341.7 834.4 L1340.8 837.3 L1340 840.2 L1339.1 843.1 L1338.7 844.6 M1329.7 883.6 L1329.2 886.6 L1328.7 889.6 L1328.3 892.5 L1327.9 895.5 L1327.5 898.5 L1327.1 901.5 L1326.8 904.5 L1326.5 907.5 L1326.4 908 M1326.2 957.5 L1326.5 960.5 L1326.8 963.5 L1327.1 966.5 L1327.5 969.5 L1327.9 972.5 L1328.3 975.5 L1328.7 978.4 L1329 979.9 M1339.1 1024.9 L1340 1027.8 L1340.8 1030.7 L1341.7 1033.6 L1342.6 1036.4 L1343.5 1039.3 L1344.4 1042.2 L1345.2 1044.6 M1361.2 1088.9 L1362.3 1091.7 L1363.4 1094.5 L1364.5 1097.3 L1365.6 1100.1 L1366.7 1102.8 L1367.9 1105.6 L1369 1108.4 L1370.1 1111.2 M1386.6 1151.6 L1387.7 1154.4 L1388.9 1157.2 L1390 1160 L1391.1 1162.8 L1392.2 1165.6 L1393.3 1168.4 L1394.4 1171.2 L1395.5 1174 L1396.6 1176.8 L1397.6 1179.6 L1398.7 1182.4 L1399.8 1185.2 L1400.8 1188 L1401 1188.5 M1416.7 1234.5 L1417.6 1237.4 L1418.4 1240.3 L1419.3 1243.2 L1420.1 1246.1 L1421 1249 L1421.8 1251.9 L1422.3 1253.8 M1431.2 1290.8 L1431.8 1293.8 L1432.3 1296.7 L1432.9 1299.7 L1433.4 1302.7 L1433.9 1305.6 L1434.4 1308.6 L1434.9 1311.6 L1435.3 1314 M1440 1360.9 L1440.1 1363.9 L1440.2 1366.9 L1440.3 1369.9 L1440.4 1372.9 L1440.4 1376 L1440.4 1379 L1440.4 1382 L1440.4 1385 M1436.6 1432.9 L1436.1 1435.9 L1435.6 1438.9 L1435.1 1441.8 L1434.6 1444.8 L1434 1447.8 L1433.4 1450.7 L1432.8 1453.6 L1432.2 1456.6 M1420.2 1498 L1419.1 1500.8 L1418.1 1503.6 L1417 1506.4 L1415.9 1509.2 L1414.8 1512 L1413.7 1514.8 L1412.5 1517.6 L1411.3 1520.3 M1390.5 1560.9 L1389 1563.5 L1387.4 1566.1 L1385.8 1568.6 L1384.2 1571.2 L1382.6 1573.7 L1380.9 1576.2 L1379.2 1578.7 L1377.8 1580.8 M1349.5 1616.6 L1347.5 1618.8 L1345.5 1621 L1343.4 1623.2 L1341.3 1625.3 L1339.2 1627.5 L1337.1 1629.6 L1334.9 1631.7 L1332.7 1633.8 L1332.4 1634.1 M1297.9 1662.4 L1295.4 1664.1 L1292.9 1665.8 L1290.4 1667.4 L1287.9 1669.1 L1285.4 1670.7 L1282.8 1672.3 L1280.2 1673.8 L1278.1 1675.1 M1235 1696.5 L1232.2 1697.6 L1229.4 1698.7 L1226.6 1699.8 L1223.8 1700.9 L1221 1702 L1218.1 1703 L1215.3 1704 L1212.9 1704.8 M1167.7 1718.1 L1164.8 1718.8 L1161.9 1719.5 L1158.9 1720.2 L1156 1720.8 L1153.1 1721.5 L1150.1 1722.1 L1147.2 1722.7 L1144.7 1723.2 M1096.3 1731.3 L1093.3 1731.7 L1090.3 1732.1 L1087.3 1732.5 L1084.3 1732.9 L1081.4 1733.2 L1078.4 1733.6 L1075.4 1733.9 L1072.4 1734.3 L1070.9 1734.4 M1022.5 1739.1 L1019.5 1739.4 L1016.5 1739.6 L1013.5 1739.9 L1010.5 1740.1 L1007.5 1740.4 L1004.5 1740.6 L1001.4 1740.9 L997.9 1741.2 L997.4 1741.2"/>
<path class="c" stroke="#ff00ff" d="M1042.4 129.1 L1045.4 129.3 L1048.4 129.5 L1051.4 129.7 L1054.4 129.9 L1057.4 130.1 L1060.4 130.3 L1063.4 130.5 L1066.4 130.8 L1069.4 131 L1070.4 131 M1116.3 134.4 L1119.3 134.6 L1122.3 134.8 L1125.3 135.1 L1128.3 135.3 L1131.3 135.5 L1134.2 135.8 L1137.2 136 L1140.2 136.3 L1143.2 136.5 L1143.7 136.6 M1191.1 140.7 L1194.1 141 L1197 141.3 L1200 141.6 L1203 141.8 L1206 142.1 L1209 142.4 L1212 142.8 L1215 143.1 L1217 143.3 M1264.6 149.5 L1267.5 150 L1270.5 150.5 L1273.4 151 L1276.4 151.6 L1279.4 152.1 L1282.3 152.7 L1285.3 153.2 L1288.2 153.8 L1291.1 154.4 L1291.6 154.6 M1338.9 167.3 L1341.8 168.2 L1344.6 169.2 L1347.4 170.2 L1350.3 171.3 L1353.1 172.3 L1355.9 173.4 L1358.7 174.5 L1361.4 175.7 L1364.2 176.8 L1365.1 177.2 M1406.7 199.1 L1409.2 200.8 L1411.7 202.4 L1414.2 204.1 L1416.6 205.9 L1419.1 207.6 L1421.5 209.4 L1423.8 211.2 L1426.2 213.1 L1428.6 215 M1460.4 247.3 L1462.3 249.7 L1464.1 252.1 L1465.8 254.6 L1467.6 257 L1469.2 259.5 L1470.9 262 L1472.5 264.5 M1492.2 303.3 L1493.3 306.1 L1494.4 308.9 L1495.4 311.7 L1496.4 314.5 L1497.4 317.3 L1498.4 320.2 L1499.3 323 L1500.2 325.9 L1500.5 326.9 M1509.3 364.4 L1509.8 367.3 L1510.2 370.3 L1510.6 373.3 L1511 376.2 L1511.4 379.2 L1511.8 382.2 L1512.1 385.2 L1512.4 388.2 L1512.6 390.7 M1513.6 437.1 L1513.5 440.1 L1513.3 443.1 L1513.2 446.1 L1513 449.1 L1512.8 452.1 L1512.6 455.1 L1512.4 458.1 L1512.2 460.6 M1506.4 507.3 L1505.9 510.2 L1505.4 513.2 L1504.9 516.2 L1504.4 519.1 L1503.9 522.1 L1503.4 525 L1503.1 526.5 M1494.9 569.3 L1494.3 572.2 L1493.7 575.1 L1493.1 578.1 L1492.5 581 L1491.9 584 L1491.3 586.9 L1490.7 589.8 L1490.1 592.8 L1489.5 595.7 L1488.9 598.7 L1488.3 601.6 L1487.7 604.6 L1487.1 607.5 L1486.5 610.4 L1486 613.4 L1485.6 615.3 M1477.2 661.1 L1476.7 664.1 L1476.3 667.1 L1475.8 670 L1475.4 673 L1474.9 676 L1474.5 678.9 L1474.1 681.9 L1473.7 684.9 L1473.6 685.4 M1468.8 726.1 L1468.5 729.1 L1468.2 732.1 L1467.9 735.1 L1467.6 738.1 L1467.4 741 L1467.1 744 M1463.8 793.5 L1463.6 796.5 L1463.5 799.5 L1463.3 802.4 L1463.2 805.4 L1463.1 808.4 L1462.9 811.4 L1462.8 814.4 L1462.8 815.9 M1461.5 863.5 L1461.5 866.5 L1461.4 869.5 L1461.4 872.5 L1461.4 875.5 L1461.3 878.5 L1461.3 881.5 L1461.3 884.5 L1461.3 887.5 L1461.3 889.5 M1461.3 939 L1461.2 942 L1461.2 945 L1461.2 948 L1461.2 951 L1461.2 954 L1461.2 957 L1461.2 960 L1461.2 963 L1461.2 964 M1461.7 1013 L1461.7 1016 L1461.8 1019 L1461.9 1022 L1461.9 1025.1 L1462 1028.1 L1462.1 1031.1 L1462.2 1034.1 L1462.2 1037.1 L1462.3 1039.1 M1464.2 1082 L1464.3 1085 L1464.5 1088 L1464.7 1091 L1464.9 1094 L1465.1 1097 L1465.3 1100 L1465.5 1103 L1465.5 1103.5 M1469.8 1151.8 L1470.2 1154.8 L1470.5 1157.8 L1470.8 1160.8 L1471.2 1163.8 L1471.5 1166.8 L1471.9 1169.7 L1472.3 1172.7 L1472.7 1175.7 L1473.1 1178.7 L1473.5 1181.6 L1473.9 1184.6 L1474.3 1187.6 L1474.6 1189.6 M1482.5 1236.9 L1483.1 1239.9 L1483.6 1242.8 L1484.2 1245.8 L1484.8 1248.7 L1485.4 1251.7 L1486 1254.6 L1486.5 1257.6 L1487.1 1260.5 L1487.3 1261.5 M1496.6 1307.1 L1497.2 1310 L1497.7 1313 L1498.3 1315.9 L1498.9 1318.9 L1499.5 1321.8 L1500 1324.8 L1500.6 1327.7 L1501.1 1330.2 M1508.5 1375.1 L1508.9 1378.1 L1509.3 1381 L1509.7 1384 L1510 1387 L1510.4 1390 L1510.7 1392.9 L1511.1 1395.9 L1511.2 1396.9 M1513.9 1446.4 L1513.9 1449.4 L1513.8 1452.4 L1513.8 1455.4 L1513.7 1458.4 L1513.6 1461.4 L1513.5 1464.4 L1513.3 1467.4 L1513.1 1470.4 M1506.4 1518.4 L1505.8 1521.3 L1505.1 1524.2 L1504.4 1527.1 L1503.6 1530.1 L1502.9 1533 L1502 1535.8 L1501.2 1538.7 L1500.4 1541.6 L1499.8 1543.5 M1481.5 1587.9 L1480.1 1590.5 L1478.6 1593.1 L1477.2 1595.8 L1475.6 1598.4 L1474.1 1600.9 L1472.5 1603.5 L1470.9 1606 L1469.2 1608.5 L1467.6 1611 M1438 1644.8 L1435.8 1646.9 L1433.5 1648.8 L1431.2 1650.8 L1428.9 1652.7 L1426.6 1654.6 L1424.2 1656.5 L1421.9 1658.3 L1421.5 1658.6 M1384.6 1681.6 L1381.9 1683 L1379.2 1684.3 L1376.5 1685.6 L1373.8 1686.9 L1371.1 1688.1 L1368.3 1689.4 L1365.6 1690.6 L1362.8 1691.7 L1362.4 1691.9 M1317.9 1707.1 L1315 1707.9 L1312.1 1708.7 L1309.2 1709.4 L1306.3 1710.1 L1303.3 1710.8 L1300.4 1711.5 L1297.5 1712.2 L1294.6 1712.8 L1292.6 1713.2 M1243.8 1721.5 L1240.8 1721.9 L1237.8 1722.3 L1234.8 1722.7 L1231.9 1723 L1228.9 1723.4 L1225.9 1723.7 L1222.9 1724.1 L1219.9 1724.4 L1217.5 1724.7 M1170.1 1729.2 L1167.1 1729.5 L1164.2 1729.7 L1161.2 1730 L1158.2 1730.2 L1155.2 1730.5 L1152.2 1730.7 L1149.2 1731 L1146.2 1731.2 L1144.2 1731.4 M1096.3 1735.1 L1093.3 1735.3 L1090.3 1735.6 L1087.3 1735.8 L1084.4 1736 L1081.4 1736.2 L1078.4 1736.4 L1075.4 1736.6 L1072.4 1736.8 L1070.9 1736.9"/>
<path class="mk" d="M976.3 124.5h36 M1099.9 141.8h36 M1147.8 157.6h36 M1196.3 182.4h36 M1227.1 207.5h36 M1247.5 232.5h36 M1260.6 257.6h36 M1269.3 282.7h36 M1274.6 307.7h36 M1278 332.7h36 M1280.3 357.7h36 M1282 382.8h36 M1282.7 407.8h36 M1282.7 432.8h36 M1281.7 457.8h36 M1278.6 482.8h36 M1274.6 507.9h36 M1269.3 532.9h36 M1262.9 557.9h36 M1255.9 582.9h36 M1247.5 608h36 M1239.5 633h36 M1230.5 658h36 M1220.7 683h36 M1211.4 708.1h36 M1202.3 733.1h36 M1193.6 758.1h36 M1185.6 783.1h36 M1178.9 808.1h36 M1173.2 833.1h36 M1168.9 858.1h36 M1165.5 883.1h36 M1164.5 908.1h36 M1164.5 933.1h36 M1164.5 958.1h36 M1165.5 983.1h36 M1168.9 1008.1h36 M1173.2 1033.1h36 M1178.9 1058.1h36 M1185.6 1083.1h36 M1193.6 1108.1h36 M1202.3 1133.1h36 M1211.4 1158.1h36 M1220.7 1183.2h36 M1230.5 1208.2h36 M1239.5 1233.2h36 M1247.5 1258.2h36 M1255.9 1283.3h36 M1262.9 1308.3h36 M1269.3 1333.3h36 M1274.6 1358.3h36 M1278.6 1383.4h36 M1281.7 1408.4h36 M1282.7 1433.4h36 M1282.7 1458.4h36 M1282 1483.4h36 M1280.3 1508.5h36 M1278 1533.5h36 M1274.6 1558.5h36 M1269.3 1583.5h36 M1260.6 1608.6h36 M1247.5 1633.7h36 M1227.1 1658.7h36 M1196.3 1683.8h36 M1147.8 1708.6h36 M1099.9 1724.4h36 M976.3 1741.7h36"/>
<path class="mv" d="M994.3 106.5v36 M1117.9 123.8v36 M1165.8 139.6v36 M1214.3 164.4v36 M1245.1 189.5v36 M1265.5 214.5v36 M1278.6 239.6v36 M1287.3 264.7v36 M1292.6 289.7v36 M1296 314.7v36 M1298.3 339.7v36 M1300 364.8v36 M1300.7 389.8v36 M1300.7 414.8v36 M1299.7 439.8v36 M1296.6 464.8v36 M1292.6 489.9v36 M1287.3 514.9v36 M1280.9 539.9v36 M1273.9 564.9v36 M1265.5 590v36 M1257.5 615v36 M1248.5 640v36 M1238.7 665v36 M1229.4 690.1v36 M1220.3 715.1v36 M1211.6 740.1v36 M1203.6 765.1v36 M1196.9 790.1v36 M1191.2 815.1v36 M1186.9 840.1v36 M1183.5 865.1v36 M1182.5 890.1v36 M1182.5 915.1v36 M1182.5 940.1v36 M1183.5 965.1v36 M1186.9 990.1v36 M1191.2 1015.1v36 M1196.9 1040.1v36 M1203.6 1065.1v36 M1211.6 1090.1v36 M1220.3 1115.1v36 M1229.4 1140.1v36 M1238.7 1165.2v36 M1248.5 1190.2v36 M1257.5 1215.2v36 M1265.5 1240.2v36 M1273.9 1265.3v36 M1280.9 1290.3v36 M1287.3 1315.3v36 M1292.6 1340.3v36 M1296.6 1365.4v36 M1299.7 1390.4v36 M1300.7 1415.4v36 M1300.7 1440.4v36 M1300 1465.4v36 M1298.3 1490.5v36 M1296 1515.5v36 M1292.6 1540.5v36 M1287.3 1565.5v36 M1278.6 1590.6v36 M1265.5 1615.7v36 M1245.1 1640.7v36 M1214.3 1665.8v36 M1165.8 1690.6v36 M1117.9 1706.4v36 M994.3 1723.7v36"/>
</g>
<g clip-path="url(#cp3)">
<path class="c" stroke="#000" d="M1701.8 127.6 C1703.3 127.8 1707.8 128.3 1710.7 128.7 C1713.7 129 1716.7 129.4 1719.7 129.8 C1722.7 130.1 1725.7 130.5 1728.6 130.9 C1731.6 131.3 1734.6 131.8 1737.6 132.2 C1740.5 132.7 1743.5 133.2 1746.4 133.8 C1749.4 134.3 1752.3 134.9 1755.3 135.6 C1758.2 136.3 1761.1 137 1764 137.9 C1766.9 138.7 1769.8 139.6 1772.6 140.6 C1775.4 141.6 1778.2 142.7 1781 143.9 C1783.7 145.1 1786.4 146.4 1789 147.9 C1791.6 149.5 1794.2 151.1 1796.5 152.9 C1798.9 154.8 1801.2 156.8 1803.2 159 C1805.2 161.2 1807.1 163.6 1808.7 166.1 C1810.2 168.7 1811.6 171.4 1812.7 174.2 C1813.9 176.9 1814.8 179.8 1815.6 182.7 C1816.5 185.6 1817.1 188.5 1817.7 191.5 C1818.2 194.4 1818.7 197.4 1819 200.4 C1819.4 203.4 1819.7 206.4 1820 209.4 C1820.2 212.3 1820.4 215.3 1820.6 218.3 C1820.8 221.3 1821 224.3 1821.2 227.3 C1821.3 230.3 1821.5 233.3 1821.6 236.3 C1821.7 239.4 1821.8 242.4 1821.9 245.4 C1822 248.4 1822.1 251.4 1822.1 254.4 C1822.2 257.4 1822.2 260.4 1822.2 263.4 C1822.3 266.4 1822.3 269.4 1822.3 272.4 C1822.3 275.4 1822.3 278.4 1822.3 281.4 C1822.3 284.4 1822.3 287.4 1822.3 290.4 C1822.3 293.4 1822.3 296.4 1822.3 299.4 C1822.3 302.5 1822.3 305.5 1822.3 308.5 C1822.2 311.5 1822.2 314.5 1822.2 317.5 C1822.2 320.5 1822.2 323.5 1822.2 326.5 C1822.2 329.5 1822.2 332.5 1822.2 335.5 C1822.2 338.5 1822.1 341.5 1822.1 344.5 C1822.1 347.5 1822.1 350.5 1822.1 353.5 C1822.1 356.5 1822.1 359.6 1822.1 362.6 C1822.1 365.6 1822.1 368.6 1822.1 371.6 C1822.1 374.6 1822.1 377.6 1822 380.6 C1822 383.6 1822 386.6 1822 389.6 C1822 392.6 1822 395.6 1822 398.6 C1822 401.6 1822 404.6 1822 407.6 C1822 410.6 1822 413.6 1822 416.7 C1822 419.7 1822 422.7 1822 425.7 C1822 428.7 1822 431.7 1822 434.7 C1822 437.7 1822 440.7 1822 443.7 C1822 446.7 1821.9 449.7 1821.9 452.7 C1821.9 455.7 1821.9 458.7 1821.9 461.7 C1821.9 464.7 1821.9 467.7 1821.9 470.7 C1821.9 473.8 1821.9 476.8 1821.9 479.8 C1821.9 482.8 1821.9 485.8 1821.9 488.8 C1821.9 491.8 1821.9 494.8 1821.9 497.8 C1821.9 500.8 1821.9 503.8 1821.9 506.8 C1821.9 509.8 1821.9 512.8 1821.9 515.8 C1821.9 518.8 1821.9 521.8 1821.9 524.8 C1821.9 527.8 1821.9 530.8 1821.9 533.9 C1821.9 536.9 1821.9 539.9 1821.9 542.9 C1821.9 545.9 1821.9 548.9 1821.9 551.9 C1821.9 554.9 1821.9 557.9 1821.9 560.9 C1821.9 563.9 1821.9 566.9 1821.9 569.9 C1821.9 572.9 1821.9 575.9 1821.9 578.9 C1821.9 581.9 1821.9 584.9 1822 587.9 C1822 591 1822 594 1822 597 C1822 600 1822 603 1822 606 C1822 609 1822 612 1822 615 C1822 618 1822 621 1822 624 C1822 627 1822 630 1822 633 C1822 636 1822 639 1822 642 C1822 645 1822 648.1 1822 651.1 C1822 654.1 1822 657.1 1822 660.1 C1822 663.1 1822 666.1 1822 669.1 C1822 672.1 1822 675.1 1822 678.1 C1822 681.1 1822 684.1 1822.1 687.1 C1822.1 690.1 1822.1 693.1 1822.1 696.1 C1822.1 699.1 1822.1 702.1 1822.1 705.2 C1822.1 708.2 1822.1 711.2 1822.1 714.2 C1822.1 717.2 1822.1 720.2 1822.1 723.2 C1822.1 726.2 1822.1 729.2 1822.1 732.2 C1822.1 735.2 1822.1 738.2 1822.1 741.2 C1822.1 744.2 1822.1 747.2 1822.1 750.2 C1822.1 753.2 1822.1 756.2 1822.1 759.2 C1822.1 762.3 1822.1 765.3 1822.2 768.3 C1822.2 771.3 1822.2 774.3 1822.2 777.3 C1822.2 780.3 1822.2 783.3 1822.2 786.3 C1822.2 789.3 1822.2 792.3 1822.2 795.3 C1822.2 798.3 1822.2 801.3 1822.2 804.3 C1822.2 807.3 1822.2 810.3 1822.2 813.3 C1822.2 816.3 1822.2 819.3 1822.2 822.4 C1822.2 825.4 1822.2 828.4 1822.2 831.4 C1822.2 834.4 1822.2 837.4 1822.2 840.4 C1822.2 843.4 1822.2 846.4 1822.2 849.4 C1822.2 852.4 1822.2 855.4 1822.2 858.4 C1822.2 861.4 1822.2 864.4 1822.2 867.4 C1822.3 870.4 1822.3 873.4 1822.3 876.4 C1822.3 879.5 1822.3 882.5 1822.3 885.5 C1822.3 888.5 1822.3 891.5 1822.3 894.5 C1822.3 897.5 1822.3 900.5 1822.3 903.5 C1822.3 906.5 1822.3 909.5 1822.3 912.5 C1822.3 915.5 1822.3 918.5 1822.3 921.5 C1822.3 924.5 1822.3 927.5 1822.3 930.5 C1822.3 933.5 1822.3 936.6 1822.3 939.6 C1822.3 942.6 1822.3 945.6 1822.3 948.6 C1822.3 951.6 1822.3 954.6 1822.3 957.6 C1822.3 960.6 1822.3 963.6 1822.3 966.6 C1822.3 969.6 1822.3 972.6 1822.3 975.6 C1822.3 978.6 1822.3 981.6 1822.3 984.6 C1822.3 987.6 1822.3 990.6 1822.3 993.7 C1822.3 996.7 1822.3 999.7 1822.2 1002.7 C1822.2 1005.7 1822.2 1008.7 1822.2 1011.7 C1822.2 1014.7 1822.2 1017.7 1822.2 1020.7 C1822.2 1023.7 1822.2 1026.7 1822.2 1029.7 C1822.2 1032.7 1822.2 1035.7 1822.2 1038.7 C1822.2 1041.7 1822.2 1044.7 1822.2 1047.7 C1822.2 1050.8 1822.2 1053.8 1822.2 1056.8 C1822.2 1059.8 1822.2 1062.8 1822.2 1065.8 C1822.2 1068.8 1822.2 1071.8 1822.2 1074.8 C1822.2 1077.8 1822.2 1080.8 1822.2 1083.8 C1822.2 1086.8 1822.2 1089.8 1822.2 1092.8 C1822.2 1095.8 1822.2 1098.8 1822.2 1101.8 C1822.1 1104.8 1822.1 1107.8 1822.1 1110.9 C1822.1 1113.9 1822.1 1116.9 1822.1 1119.9 C1822.1 1122.9 1822.1 1125.9 1822.1 1128.9 C1822.1 1131.9 1822.1 1134.9 1822.1 1137.9 C1822.1 1140.9 1822.1 1143.9 1822.1 1146.9 C1822.1 1149.9 1822.1 1152.9 1822.1 1155.9 C1822.1 1158.9 1822.1 1161.9 1822.1 1164.9 C1822.1 1168 1822.1 1171 1822.1 1174 C1822.1 1177 1822.1 1180 1822.1 1183 C1822 1186 1822 1189 1822 1192 C1822 1195 1822 1198 1822 1201 C1822 1204 1822 1207 1822 1210 C1822 1213 1822 1216 1822 1219 C1822 1222 1822 1225.1 1822 1228.1 C1822 1231.1 1822 1234.1 1822 1237.1 C1822 1240.1 1822 1243.1 1822 1246.1 C1822 1249.1 1822 1252.1 1822 1255.1 C1822 1258.1 1822 1261.1 1822 1264.1 C1822 1267.1 1822 1270.1 1822 1273.1 C1822 1276.1 1822 1279.1 1822 1282.2 C1821.9 1285.2 1821.9 1288.2 1821.9 1291.2 C1821.9 1294.2 1821.9 1297.2 1821.9 1300.2 C1821.9 1303.2 1821.9 1306.2 1821.9 1309.2 C1821.9 1312.2 1821.9 1315.2 1821.9 1318.2 C1821.9 1321.2 1821.9 1324.2 1821.9 1327.2 C1821.9 1330.2 1821.9 1333.2 1821.9 1336.2 C1821.9 1339.3 1821.9 1342.3 1821.9 1345.3 C1821.9 1348.3 1821.9 1351.3 1821.9 1354.3 C1821.9 1357.3 1821.9 1360.3 1821.9 1363.3 C1821.9 1366.3 1821.9 1369.3 1821.9 1372.3 C1821.9 1375.3 1821.9 1378.3 1821.9 1381.3 C1821.9 1384.3 1821.9 1387.3 1821.9 1390.3 C1821.9 1393.3 1821.9 1396.3 1821.9 1399.4 C1821.9 1402.4 1821.9 1405.4 1821.9 1408.4 C1821.9 1411.4 1821.9 1414.4 1821.9 1417.4 C1821.9 1420.4 1822 1423.4 1822 1426.4 C1822 1429.4 1822 1432.4 1822 1435.4 C1822 1438.4 1822 1441.4 1822 1444.4 C1822 1447.4 1822 1450.4 1822 1453.4 C1822 1456.5 1822 1459.5 1822 1462.5 C1822 1465.5 1822 1468.5 1822 1471.5 C1822 1474.5 1822 1477.5 1822 1480.5 C1822 1483.5 1822 1486.5 1822 1489.5 C1822.1 1492.5 1822.1 1495.5 1822.1 1498.5 C1822.1 1501.5 1822.1 1504.5 1822.1 1507.5 C1822.1 1510.5 1822.1 1513.6 1822.1 1516.6 C1822.1 1519.6 1822.1 1522.6 1822.1 1525.6 C1822.1 1528.6 1822.2 1531.6 1822.2 1534.6 C1822.2 1537.6 1822.2 1540.6 1822.2 1543.6 C1822.2 1546.6 1822.2 1549.6 1822.2 1552.6 C1822.2 1555.6 1822.2 1558.6 1822.3 1561.6 C1822.3 1564.6 1822.3 1567.6 1822.3 1570.7 C1822.3 1573.7 1822.3 1576.7 1822.3 1579.7 C1822.3 1582.7 1822.3 1585.7 1822.3 1588.7 C1822.3 1591.7 1822.3 1594.7 1822.3 1597.7 C1822.3 1600.7 1822.3 1603.7 1822.2 1606.7 C1822.2 1609.7 1822.2 1612.7 1822.1 1615.7 C1822.1 1618.7 1822 1621.7 1821.9 1624.7 C1821.8 1627.7 1821.7 1630.7 1821.6 1633.8 C1821.5 1636.8 1821.3 1639.8 1821.2 1642.8 C1821 1645.8 1820.8 1648.8 1820.6 1651.8 C1820.4 1654.8 1820.2 1657.8 1820 1660.7 C1819.7 1663.7 1819.4 1666.7 1819 1669.7 C1818.7 1672.7 1818.2 1675.7 1817.7 1678.6 C1817.1 1681.6 1816.5 1684.5 1815.6 1687.4 C1814.8 1690.3 1813.9 1693.2 1812.7 1695.9 C1811.6 1698.7 1810.2 1701.4 1808.7 1704 C1807.1 1706.5 1805.2 1708.9 1803.2 1711.1 C1801.2 1713.3 1798.9 1715.3 1796.5 1717.2 C1794.2 1719 1791.6 1720.6 1789 1722.2 C1786.4 1723.7 1783.7 1725 1781 1726.2 C1778.2 1727.4 1775.4 1728.5 1772.6 1729.5 C1769.8 1730.5 1766.9 1731.4 1764 1732.2 C1761.1 1733.1 1758.2 1733.8 1755.3 1734.5 C1752.3 1735.2 1749.4 1735.8 1746.4 1736.3 C1743.5 1736.9 1740.5 1737.4 1737.6 1737.9 C1734.6 1738.3 1731.6 1738.8 1728.6 1739.2 C1725.7 1739.6 1722.7 1740 1719.7 1740.3 C1716.7 1740.7 1713.7 1741.1 1710.7 1741.4 C1707.8 1741.8 1703.3 1742.3 1701.8 1742.5"/>
<path class="c" stroke="#0000ff" d="M1701.8 127.6 C1703.3 127.9 1707.8 128.4 1710.6 129.3 C1713.5 130.2 1716.3 131.5 1718.8 133 C1721.4 134.6 1723.7 136.6 1725.8 138.7 C1727.9 140.8 1729.8 143.3 1731.4 145.8 C1733.1 148.2 1734.4 151 1735.7 153.7 C1737 156.4 1738.1 159.2 1739.2 162 C1740.3 164.8 1741.2 167.6 1742.2 170.5 C1743.1 173.3 1744 176.2 1744.9 179.1 C1745.8 181.9 1746.7 184.8 1747.6 187.7 C1748.4 190.6 1749.3 193.5 1750.1 196.3 C1751 199.2 1751.8 202.1 1752.6 205 C1753.4 207.9 1754.1 210.8 1754.9 213.7 C1755.7 216.6 1756.5 219.5 1757.2 222.5 C1758 225.4 1758.7 228.3 1759.4 231.2 C1760.2 234.1 1760.9 237 1761.6 239.9 C1762.3 242.9 1763 245.8 1763.7 248.7 C1764.5 251.6 1765.2 254.6 1765.9 257.5 C1766.6 260.4 1767.3 263.3 1768 266.2 C1768.7 269.2 1769.4 272.1 1770.1 275 C1770.8 277.9 1771.5 280.9 1772.2 283.8 C1772.9 286.7 1773.5 289.6 1774.2 292.6 C1774.9 295.5 1775.6 298.4 1776.3 301.3 C1777 304.3 1777.6 307.2 1778.3 310.1 C1779 313.1 1779.6 316 1780.3 318.9 C1781 321.9 1781.6 324.8 1782.3 327.7 C1782.9 330.7 1783.6 333.6 1784.2 336.5 C1784.8 339.5 1785.5 342.4 1786.1 345.4 C1786.7 348.3 1787.3 351.2 1787.9 354.2 C1788.5 357.1 1789.1 360.1 1789.7 363 C1790.3 366 1790.9 368.9 1791.4 371.9 C1792 374.8 1792.6 377.8 1793.1 380.7 C1793.7 383.7 1794.2 386.7 1794.7 389.6 C1795.3 392.6 1795.8 395.5 1796.3 398.5 C1796.8 401.5 1797.3 404.4 1797.8 407.4 C1798.3 410.4 1798.7 413.3 1799.2 416.3 C1799.6 419.3 1800.1 422.2 1800.5 425.2 C1800.9 428.2 1801.3 431.2 1801.7 434.2 C1802.1 437.1 1802.5 440.1 1802.9 443.1 C1803.3 446.1 1803.6 449.1 1804 452.1 C1804.3 455 1804.6 458 1804.9 461 C1805.2 464 1805.5 467 1805.8 470 C1806.1 473 1806.4 476 1806.6 479 C1806.9 482 1807.1 485 1807.3 488 C1807.6 491 1807.8 494 1808 497 C1808.2 500 1808.4 503 1808.6 506 C1808.7 509 1808.9 512 1809.1 515 C1809.2 518 1809.4 521 1809.5 524 C1809.6 527 1809.7 530 1809.8 533 C1809.9 536 1810 539 1810.1 542 C1810.2 545 1810.3 548 1810.4 551 C1810.4 554 1810.5 557 1810.5 560 C1810.6 563 1810.6 566 1810.6 569 C1810.7 572 1810.7 575.1 1810.7 578.1 C1810.7 581.1 1810.7 584.1 1810.7 587.1 C1810.7 590.1 1810.7 593.1 1810.6 596.1 C1810.6 599.1 1810.6 602.1 1810.5 605.1 C1810.5 608.1 1810.5 611.1 1810.4 614.1 C1810.3 617.1 1810.3 620.1 1810.2 623.1 C1810.2 626.2 1810.1 629.2 1810 632.2 C1809.9 635.2 1809.8 638.2 1809.7 641.2 C1809.6 644.2 1809.6 647.2 1809.4 650.2 C1809.3 653.2 1809.2 656.2 1809.1 659.2 C1809 662.2 1808.9 665.2 1808.8 668.2 C1808.7 671.2 1808.5 674.2 1808.4 677.2 C1808.3 680.2 1808.1 683.2 1808 686.2 C1807.9 689.2 1807.7 692.2 1807.6 695.2 C1807.4 698.2 1807.3 701.2 1807.1 704.3 C1807 707.3 1806.8 710.3 1806.7 713.3 C1806.5 716.3 1806.4 719.3 1806.2 722.3 C1806.1 725.3 1805.9 728.3 1805.7 731.3 C1805.6 734.3 1805.4 737.3 1805.2 740.3 C1805.1 743.3 1804.9 746.3 1804.8 749.3 C1804.6 752.3 1804.4 755.3 1804.3 758.3 C1804.1 761.3 1803.9 764.3 1803.8 767.3 C1803.6 770.3 1803.4 773.3 1803.3 776.3 C1803.1 779.3 1803 782.3 1802.8 785.3 C1802.6 788.3 1802.5 791.3 1802.3 794.3 C1802.2 797.3 1802 800.3 1801.8 803.3 C1801.7 806.3 1801.5 809.3 1801.4 812.3 C1801.2 815.3 1801.1 818.3 1801 821.3 C1800.8 824.3 1800.7 827.3 1800.5 830.3 C1800.4 833.3 1800.3 836.3 1800.1 839.3 C1800 842.3 1799.9 845.4 1799.8 848.4 C1799.6 851.4 1799.5 854.4 1799.4 857.4 C1799.3 860.4 1799.2 863.4 1799.1 866.4 C1799 869.4 1798.9 872.4 1798.8 875.4 C1798.7 878.4 1798.6 881.4 1798.5 884.4 C1798.5 887.4 1798.4 890.4 1798.3 893.4 C1798.3 896.4 1798.2 899.4 1798.1 902.4 C1798.1 905.4 1798 908.4 1798 911.5 C1798 914.5 1797.9 917.5 1797.9 920.5 C1797.9 923.5 1797.9 926.5 1797.9 929.5 C1797.9 932.5 1797.9 935.5 1797.9 938.5 C1797.9 941.5 1797.9 944.5 1797.9 947.5 C1797.9 950.5 1798 953.5 1798 956.5 C1798 959.6 1798.1 962.6 1798.1 965.6 C1798.2 968.6 1798.3 971.6 1798.3 974.6 C1798.4 977.6 1798.5 980.6 1798.5 983.6 C1798.6 986.6 1798.7 989.6 1798.8 992.6 C1798.9 995.6 1799 998.6 1799.1 1001.6 C1799.2 1004.6 1799.3 1007.6 1799.4 1010.6 C1799.5 1013.6 1799.6 1016.6 1799.8 1019.6 C1799.9 1022.6 1800 1025.7 1800.1 1028.7 C1800.3 1031.7 1800.4 1034.7 1800.5 1037.7 C1800.7 1040.7 1800.8 1043.7 1801 1046.7 C1801.1 1049.7 1801.2 1052.7 1801.4 1055.7 C1801.5 1058.7 1801.7 1061.7 1801.8 1064.7 C1802 1067.7 1802.2 1070.7 1802.3 1073.7 C1802.5 1076.7 1802.6 1079.7 1802.8 1082.7 C1803 1085.7 1803.1 1088.7 1803.3 1091.7 C1803.4 1094.7 1803.6 1097.7 1803.8 1100.7 C1803.9 1103.7 1804.1 1106.7 1804.3 1109.7 C1804.4 1112.7 1804.6 1115.7 1804.8 1118.7 C1804.9 1121.7 1805.1 1124.7 1805.2 1127.7 C1805.4 1130.7 1805.6 1133.7 1805.7 1136.7 C1805.9 1139.7 1806.1 1142.7 1806.2 1145.7 C1806.4 1148.7 1806.5 1151.7 1806.7 1154.7 C1806.8 1157.7 1807 1160.7 1807.1 1163.7 C1807.3 1166.8 1807.4 1169.8 1807.6 1172.8 C1807.7 1175.8 1807.9 1178.8 1808 1181.8 C1808.1 1184.8 1808.3 1187.8 1808.4 1190.8 C1808.5 1193.8 1808.7 1196.8 1808.8 1199.8 C1808.9 1202.8 1809 1205.8 1809.1 1208.8 C1809.2 1211.8 1809.3 1214.8 1809.4 1217.8 C1809.6 1220.8 1809.6 1223.8 1809.7 1226.8 C1809.8 1229.8 1809.9 1232.8 1810 1235.8 C1810.1 1238.8 1810.2 1241.8 1810.2 1244.9 C1810.3 1247.9 1810.3 1250.9 1810.4 1253.9 C1810.5 1256.9 1810.5 1259.9 1810.5 1262.9 C1810.6 1265.9 1810.6 1268.9 1810.6 1271.9 C1810.7 1274.9 1810.7 1277.9 1810.7 1280.9 C1810.7 1283.9 1810.7 1286.9 1810.7 1289.9 C1810.7 1292.9 1810.7 1296 1810.6 1299 C1810.6 1302 1810.6 1305 1810.5 1308 C1810.5 1311 1810.4 1314 1810.4 1317 C1810.3 1320 1810.2 1323 1810.1 1326 C1810 1329 1809.9 1332 1809.8 1335 C1809.7 1338 1809.6 1341 1809.5 1344 C1809.4 1347 1809.2 1350 1809.1 1353 C1808.9 1356 1808.7 1359 1808.6 1362 C1808.4 1365 1808.2 1368 1808 1371 C1807.8 1374 1807.6 1377 1807.3 1380 C1807.1 1383 1806.9 1386 1806.6 1389 C1806.4 1392 1806.1 1395 1805.8 1398 C1805.5 1401 1805.2 1404 1804.9 1407 C1804.6 1410 1804.3 1413 1804 1415.9 C1803.6 1418.9 1803.3 1421.9 1802.9 1424.9 C1802.5 1427.9 1802.1 1430.9 1801.7 1433.8 C1801.3 1436.8 1800.9 1439.8 1800.5 1442.8 C1800.1 1445.8 1799.6 1448.7 1799.2 1451.7 C1798.7 1454.7 1798.3 1457.6 1797.8 1460.6 C1797.3 1463.6 1796.8 1466.5 1796.3 1469.5 C1795.8 1472.5 1795.3 1475.4 1794.7 1478.4 C1794.2 1481.3 1793.7 1484.3 1793.1 1487.3 C1792.6 1490.2 1792 1493.2 1791.4 1496.1 C1790.9 1499.1 1790.3 1502 1789.7 1505 C1789.1 1507.9 1788.5 1510.9 1787.9 1513.8 C1787.3 1516.8 1786.7 1519.7 1786.1 1522.6 C1785.5 1525.6 1784.8 1528.5 1784.2 1531.5 C1783.6 1534.4 1782.9 1537.3 1782.3 1540.3 C1781.6 1543.2 1781 1546.1 1780.3 1549.1 C1779.6 1552 1779 1554.9 1778.3 1557.9 C1777.6 1560.8 1777 1563.7 1776.3 1566.7 C1775.6 1569.6 1774.9 1572.5 1774.2 1575.4 C1773.5 1578.4 1772.9 1581.3 1772.2 1584.2 C1771.5 1587.1 1770.8 1590.1 1770.1 1593 C1769.4 1595.9 1768.7 1598.8 1768 1601.8 C1767.3 1604.7 1766.6 1607.6 1765.9 1610.5 C1765.2 1613.4 1764.5 1616.4 1763.7 1619.3 C1763 1622.2 1762.3 1625.1 1761.6 1628.1 C1760.9 1631 1760.2 1633.9 1759.4 1636.8 C1758.7 1639.7 1758 1642.6 1757.2 1645.5 C1756.5 1648.5 1755.7 1651.4 1754.9 1654.3 C1754.1 1657.2 1753.4 1660.1 1752.6 1663 C1751.8 1665.9 1751 1668.8 1750.1 1671.7 C1749.3 1674.5 1748.4 1677.4 1747.6 1680.3 C1746.7 1683.2 1745.8 1686.1 1744.9 1688.9 C1744 1691.8 1743.1 1694.7 1742.2 1697.5 C1741.2 1700.4 1740.3 1703.2 1739.2 1706 C1738.1 1708.8 1737 1711.6 1735.7 1714.3 C1734.4 1717 1733.1 1719.8 1731.4 1722.2 C1729.8 1724.7 1727.9 1727.2 1725.8 1729.3 C1723.7 1731.4 1721.4 1733.4 1718.8 1735 C1716.3 1736.5 1713.5 1737.8 1710.6 1738.7 C1707.8 1739.6 1703.3 1740.1 1701.8 1740.4"/>
<path class="c" stroke="#ff8000" d="M1705.2 129 L1708.3 130.4 L1711.1 131.8 L1713.7 133.3 L1716.2 134.9 L1718.7 136.7 L1719.5 137.3 M1743.3 169.7 L1744.6 172.4 L1745.8 175.2 L1746.9 178 L1748 180.8 L1749.1 183.6 L1750.1 186.4 L1751.1 189.2 L1752.1 192.1 M1765.6 235.7 L1766.4 238.6 L1767.2 241.5 L1768 244.4 L1768.8 247.3 L1769.6 250.2 L1770.3 253.1 L1771.1 256 L1771.6 257.9 M1781 296.4 L1781.7 299.3 L1782.4 302.3 L1783 305.2 L1783.7 308.1 L1784.4 311.1 L1785.1 314 L1785.7 316.9 L1786.3 319.4 M1796.3 365.9 L1796.9 368.9 L1797.5 371.8 L1798.1 374.8 L1798.7 377.7 L1799.3 380.7 L1799.8 383.6 L1800.4 386.6 L1800.9 389.5 L1801 390 M1808.7 435 L1809.2 438 L1809.6 441 L1810 443.9 L1810.5 446.9 L1810.9 449.9 L1811.3 452.9 L1811.7 455.9 L1812 457.8 M1816.7 500.2 L1817 503.2 L1817.2 506.2 L1817.5 509.2 L1817.7 512.2 L1817.9 515.2 L1818.2 518.2 L1818.4 521.2 L1818.5 523.2 M1820.6 568.8 L1820.7 571.8 L1820.7 574.8 L1820.8 577.8 L1820.9 580.8 L1820.9 583.8 L1820.9 586.8 L1821 589.8 L1821 592.8 L1821 595.8 L1821 598.8 L1821.1 599.8 M1820.5 650 L1820.4 653 L1820.3 656 L1820.2 659 L1820.2 662 L1820.1 665 L1820 668 L1819.9 671 L1819.8 674 L1819.7 675 M1817.7 722.6 L1817.6 725.6 L1817.4 728.6 L1817.3 731.6 L1817.1 734.6 L1817 737.6 L1816.8 740.6 L1816.7 743.6 L1816.5 746.6 M1813.9 796.2 L1813.8 799.2 L1813.6 802.2 L1813.4 805.2 L1813.3 808.2 L1813.1 811.2 L1813 814.2 L1812.9 817.2 L1812.8 818.7 M1810.9 862.3 L1810.8 865.3 L1810.7 868.3 L1810.6 871.3 L1810.5 874.3 L1810.4 877.4 L1810.3 880.4 L1810.2 883.4 L1810.2 886.4 L1810.1 888.4 M1809.5 934 L1809.5 937 L1809.5 940 L1809.5 943 L1809.5 946 L1809.6 949 L1809.6 952 L1809.6 955.1 L1809.7 958.1 L1809.7 961.1 L1809.8 964.1 L1809.8 965.1 M1811 1008.2 L1811.1 1011.2 L1811.2 1014.2 L1811.4 1017.2 L1811.5 1020.2 L1811.6 1023.2 L1811.7 1026.2 L1811.9 1029.2 L1812 1032.2 L1812.1 1035.2 L1812.3 1038.2 L1812.3 1039.2 M1814.2 1077.8 L1814.4 1080.8 L1814.5 1083.8 L1814.7 1086.8 L1814.8 1089.8 L1815 1092.8 L1815.2 1095.8 L1815.3 1098.8 L1815.5 1101.8 L1815.6 1104.8 L1815.7 1105.8 M1817.9 1148.4 L1818 1151.4 L1818.1 1154.4 L1818.3 1157.4 L1818.4 1160.4 L1818.5 1163.4 L1818.7 1166.4 L1818.8 1169.4 L1818.9 1172.4 L1819.1 1175.4 L1819.2 1177.9 M1819.9 1198 L1820 1201 L1820.1 1204 L1820.2 1207 L1820.3 1210 L1820.4 1213 L1820.4 1216 L1820.5 1219 L1820.6 1222 L1820.7 1225.1 L1820.7 1228.1 L1820.8 1231.1 M1821 1273.2 L1821 1276.2 L1821 1279.2 L1820.9 1282.2 L1820.9 1285.2 L1820.8 1288.2 L1820.8 1291.2 L1820.7 1294.2 L1820.6 1297.2 L1820.6 1300.2 L1820.5 1303.3 M1818.7 1341.8 L1818.5 1344.8 L1818.3 1347.8 L1818.1 1350.8 L1817.9 1353.8 L1817.6 1356.8 L1817.4 1359.8 L1817.1 1362.8 L1816.9 1365.3 M1811.9 1410.7 L1811.5 1413.6 L1811.1 1416.6 L1810.7 1419.6 L1810.3 1422.6 L1809.8 1425.6 L1809.4 1428.5 L1808.9 1431.5 M1801.4 1476 L1800.9 1478.9 L1800.3 1481.9 L1799.7 1484.9 L1799.2 1487.8 L1798.6 1490.8 L1798 1493.7 L1797.4 1496.7 L1796.8 1499.6 L1796.4 1501.6 M1786.5 1547.7 L1785.9 1550.6 L1785.2 1553.5 L1784.5 1556.5 L1783.8 1559.4 L1783.2 1562.3 L1782.5 1565.2 L1781.8 1568.2 L1781.1 1571.1 M1771 1612.5 L1770.2 1615.4 L1769.4 1618.3 L1768.7 1621.2 L1767.9 1624.1 L1767.1 1627 L1766.3 1629.9 L1765.5 1632.8 L1765.2 1633.8 M1751.1 1678.8 L1750.1 1681.6 L1749.1 1684.4 L1748 1687.2 L1746.9 1690 L1745.8 1692.8 L1744.6 1695.6 L1743.3 1698.3 L1742 1701 L1741.8 1701.5 M1717.1 1732.5 L1714.6 1734.2 L1712 1735.7 L1709.3 1737.2 L1706.2 1738.6 L1704.6 1739.2"/>
<path class="c" stroke="#ff00ff" d="M1719.9 128.7 L1722.9 129.2 L1725.8 129.6 L1728.3 129.9 M1774.2 137.6 L1777.2 138.1 L1780.1 138.7 L1783.1 139.2 L1786 139.8 L1789 140.4 L1791.9 141 L1794.8 141.7 L1797.8 142.4 L1800.7 143.1 M1846 168.9 L1847.9 171.2 L1849.8 173.6 L1851.5 176 L1853.2 178.5 L1854.8 181.1 L1856.4 183.6 L1857.8 186.3 L1858.5 187.6 M1873.4 225.8 L1874.3 228.6 L1875.2 231.5 L1876 234.4 L1876.8 237.3 L1877.6 240.2 L1878.4 243.1 L1879.1 246 L1879.5 247.5 M1887.8 286.1 L1888.3 289.1 L1888.8 292 L1889.3 295 L1889.8 298 L1890.3 300.9 L1890.7 303.9 L1891.2 306.9 L1891.6 309.8 L1891.8 311.3 M1897 358.1 L1897.2 361.1 L1897.5 364.1 L1897.7 367.1 L1898 370.1 L1898.2 373 L1898.4 376 L1898.6 379 L1898.8 382 L1899 384.5 M1901.1 421.5 L1901.3 424.5 L1901.4 427.5 L1901.6 430.5 L1901.7 433.5 L1901.8 436.5 L1902 439.5 L1902.1 442.5 L1902.2 445 M1904.1 494.5 L1904.2 497.5 L1904.3 500.5 L1904.4 503.5 L1904.5 506.5 L1904.5 509.5 L1904.6 512.5 L1904.7 515.5 L1904.7 517.1 M1905.8 565.6 L1905.9 568.6 L1905.9 571.6 L1906 574.6 L1906 577.6 L1906.1 580.6 L1906.1 583.6 L1906.1 586.6 L1906.2 589.6 L1906.2 592.6 L1906.2 593.1 M1906.6 631.7 L1906.6 634.7 L1906.7 637.7 L1906.7 640.7 L1906.7 643.7 L1906.7 646.7 L1906.7 649.7 L1906.8 652.7 L1906.8 655.7 L1906.8 656.7 M1906.9 705.7 L1906.9 708.7 L1906.9 711.8 L1906.9 714.8 L1906.9 717.8 L1906.9 720.8 L1906.9 723.8 L1906.9 726.8 L1906.8 729.8 L1906.8 730.8 M1906.7 779.3 L1906.7 782.3 L1906.7 785.3 L1906.7 788.3 L1906.7 791.3 L1906.7 794.3 L1906.6 797.3 L1906.6 800.4 L1906.6 803.4 L1906.6 805.4 M1906.4 853.9 L1906.4 856.9 L1906.4 859.9 L1906.4 862.9 L1906.4 865.9 L1906.4 868.9 L1906.4 871.9 L1906.4 874.9 L1906.4 877.9 L1906.4 879.9 M1906.4 926 L1906.4 929 L1906.4 932 L1906.4 935 L1906.4 938 L1906.4 941 L1906.4 944 L1906.4 947 L1906.4 950 L1906.4 953 L1906.4 956 L1906.4 956.5 M1906.4 1000.6 L1906.4 1003.6 L1906.4 1006.6 L1906.4 1009.6 L1906.4 1012.6 L1906.5 1015.6 L1906.5 1018.6 L1906.5 1021.6 L1906.5 1024.6 L1906.5 1027.6 L1906.5 1030.6 L1906.5 1031.1 M1906.7 1074.2 L1906.7 1077.2 L1906.7 1080.2 L1906.7 1083.2 L1906.7 1086.2 L1906.7 1089.2 L1906.7 1092.2 L1906.7 1095.2 L1906.7 1098.2 L1906.8 1101.2 L1906.8 1104.2 L1906.8 1104.7 M1906.9 1148.2 L1906.9 1151.2 L1906.9 1154.2 L1906.9 1157.2 L1906.9 1160.3 L1906.9 1163.3 L1906.9 1166.3 L1906.9 1169.3 L1906.9 1172.3 L1906.9 1175.3 L1906.9 1177.3 M1906.8 1191.8 L1906.8 1194.8 L1906.8 1197.8 L1906.8 1200.8 L1906.8 1203.8 L1906.8 1206.8 L1906.8 1209.8 L1906.8 1212.8 L1906.7 1215.8 L1906.7 1218.8 L1906.7 1221.8 L1906.7 1222.8 M1906.4 1262.4 L1906.4 1265.4 L1906.3 1268.4 L1906.3 1271.4 L1906.2 1274.4 L1906.2 1277.4 L1906.2 1280.4 L1906.1 1283.4 L1906.1 1286.4 L1906 1289.4 L1906 1292.4 L1906 1292.9 M1905.1 1336.9 L1905 1339.9 L1905 1342.9 L1904.9 1345.9 L1904.8 1348.9 L1904.7 1351.9 L1904.6 1355 L1904.6 1358 L1904.5 1361 L1904.4 1364 L1904.3 1365.5 M1902.7 1410.5 L1902.6 1413.5 L1902.5 1416.5 L1902.4 1419.5 L1902.2 1422.5 L1902.1 1425.5 L1902 1428.5 L1901.8 1431.5 L1901.7 1434.5 L1901.6 1437.5 L1901.5 1438 M1898.9 1485.5 L1898.7 1488.5 L1898.4 1491.5 L1898.2 1494.5 L1898 1497.4 L1897.8 1500.4 L1897.5 1503.4 L1897.3 1506.4 L1897 1509.4 M1892.1 1554.7 L1891.7 1557.7 L1891.2 1560.6 L1890.8 1563.6 L1890.4 1566.6 L1889.9 1569.6 L1889.4 1572.5 L1888.9 1575.5 L1888.4 1578.4 L1887.9 1581.4 L1887.8 1581.9 M1878 1626.4 L1877.2 1629.3 L1876.4 1632.1 L1875.6 1635 L1874.7 1637.9 L1873.9 1640.8 L1873 1643.7 L1872.1 1646.5 L1871.2 1649.4 M1851.2 1692.4 L1849.5 1694.8 L1847.6 1697.2 L1845.7 1699.5 L1843.7 1701.7 L1841.6 1703.8 L1839.4 1705.9 L1837.1 1707.8 L1834.8 1709.7 M1798.7 1725.4 L1795.8 1726.1 L1792.9 1726.7 L1790 1727.4 L1787 1728 L1784.1 1728.6 L1781.1 1729.1 L1778.2 1729.7 L1775.2 1730.2 M1728.8 1738 L1725.8 1738.4 L1722.9 1738.8 L1719.9 1739.3 L1716.9 1739.7 L1715.4 1739.9"/>
<path class="mk" d="M1681.3 124.5h36 M1715.6 141.8h36 M1716.9 157.6h36 M1725.1 182.4h36 M1733.1 207.5h36 M1740 232.5h36 M1747 257.6h36 M1753.2 282.7h36 M1759.4 307.7h36 M1764.8 332.7h36 M1769.6 357.7h36 M1773.8 382.8h36 M1777.8 407.8h36 M1781.2 432.8h36 M1784.2 457.8h36 M1786.5 482.8h36 M1788.7 507.9h36 M1789.9 532.9h36 M1791.4 557.9h36 M1792.2 582.9h36 M1792.2 608h36 M1792.2 633h36 M1791.7 658h36 M1790.5 683h36 M1789.7 708.1h36 M1788.7 733.1h36 M1787.2 758.1h36 M1785.5 783.1h36 M1783.7 808.1h36 M1782 833.1h36 M1780.3 858.1h36 M1778.7 883.1h36 M1778.7 908.1h36 M1778.7 933.1h36 M1778.7 958.1h36 M1778.7 983.1h36 M1780.3 1008.1h36 M1782 1033.1h36 M1783.7 1058.1h36 M1785.5 1083.1h36 M1787.2 1108.1h36 M1788.7 1133.1h36 M1789.7 1158.1h36 M1790.5 1183.2h36 M1791.7 1208.2h36 M1792.2 1233.2h36 M1792.2 1258.2h36 M1792.2 1283.3h36 M1791.4 1308.3h36 M1789.9 1333.3h36 M1788.7 1358.3h36 M1786.5 1383.4h36 M1784.2 1408.4h36 M1781.2 1433.4h36 M1777.8 1458.4h36 M1773.8 1483.4h36 M1769.6 1508.5h36 M1764.8 1533.5h36 M1759.4 1558.5h36 M1753.2 1583.5h36 M1747 1608.6h36 M1740 1633.7h36 M1733.1 1658.7h36 M1725.1 1683.8h36 M1716.9 1708.6h36 M1715.6 1724.4h36 M1681.3 1741.7h36"/>
<path class="mv" d="M1699.3 106.5v36 M1733.6 123.8v36 M1734.9 139.6v36 M1743.1 164.4v36 M1751.1 189.5v36 M1758 214.5v36 M1765 239.6v36 M1771.2 264.7v36 M1777.4 289.7v36 M1782.8 314.7v36 M1787.6 339.7v36 M1791.8 364.8v36 M1795.8 389.8v36 M1799.2 414.8v36 M1802.2 439.8v36 M1804.5 464.8v36 M1806.7 489.9v36 M1807.9 514.9v36 M1809.4 539.9v36 M1810.2 564.9v36 M1810.2 590v36 M1810.2 615v36 M1809.7 640v36 M1808.5 665v36 M1807.7 690.1v36 M1806.7 715.1v36 M1805.2 740.1v36 M1803.5 765.1v36 M1801.7 790.1v36 M1800 815.1v36 M1798.3 840.1v36 M1796.7 865.1v36 M1796.7 890.1v36 M1796.7 915.1v36 M1796.7 940.1v36 M1796.7 965.1v36 M1798.3 990.1v36 M1800 1015.1v36 M1801.7 1040.1v36 M1803.5 1065.1v36 M1805.2 1090.1v36 M1806.7 1115.1v36 M1807.7 1140.1v36 M1808.5 1165.2v36 M1809.7 1190.2v36 M1810.2 1215.2v36 M1810.2 1240.2v36 M1810.2 1265.3v36 M1809.4 1290.3v36 M1807.9 1315.3v36 M1806.7 1340.3v36 M1804.5 1365.4v36 M1802.2 1390.4v36 M1799.2 1415.4v36 M1795.8 1440.4v36 M1791.8 1465.4v36 M1787.6 1490.5v36 M1782.8 1515.5v36 M1777.4 1540.5v36 M1771.2 1565.5v36 M1765 1590.6v36 M1758 1615.7v36 M1751.1 1640.7v36 M1743.1 1665.8v36 M1734.9 1690.6v36 M1733.6 1706.4v36 M1699.3 1723.7v36"/>
</g>
<path class="ax" d="M258.4 124.5H2405 M258.4 1745.6H2405 M288.9 124.5V1776.1 M994.3 124.5V1776.1 M1699.3 124.5V1776.1 M272.9 327.1H288.9 M258.4 529.8H288.9 M272.9 732.4H288.9 M258.4 935H288.9 M272.9 1137.7H288.9 M258.4 1340.3H288.9 M272.9 1543H288.9 M963.8 124.5H994.3 M978.3 327.1H994.3 M963.8 529.8H994.3 M978.3 732.4H994.3 M963.8 935H994.3 M978.3 1137.7H994.3 M963.8 1340.3H994.3 M978.3 1543H994.3 M963.8 1745.6H994.3 M1668.8 124.5H1699.3 M1683.3 327.1H1699.3 M1668.8 529.8H1699.3 M1683.3 732.4H1699.3 M1668.8 935H1699.3 M1683.3 1137.7H1699.3 M1668.8 1340.3H1699.3 M1683.3 1543H1699.3 M1668.8 1745.6H1699.3 M406.5 1745.6V1761.6 M524 1745.6V1776.1 M641.6 1745.6V1761.6 M759.2 1745.6V1776.1 M876.7 1745.6V1761.6 M1135.3 1745.6V1761.6 M1276.3 1745.6V1776.1 M1417.3 1745.6V1761.6 M1558.3 1745.6V1776.1 M1840.3 1745.6V1761.6 M1981.3 1745.6V1776.1 M2122.3 1745.6V1761.6 M2263.3 1745.6V1776.1 M2405 1745.6V1761.6"/>
<text x="238" y="144.1" font-size="65.5" text-anchor="end">1.0</text>
<text x="238" y="549.4" font-size="65.5" text-anchor="end">0.5</text>
<text x="238" y="954.6" font-size="65.5" text-anchor="end">0.0</text>
<text x="238" y="1359.9" font-size="65.5" text-anchor="end">-0.5</text>
<text x="238" y="1765.2" font-size="65.5" text-anchor="end">-1.0</text>
<text x="288.9" y="1848" font-size="65.5" text-anchor="middle">0</text>
<text x="524" y="1848" font-size="65.5" text-anchor="middle">5</text>
<text x="759.2" y="1848" font-size="65.5" text-anchor="middle">10</text>
<text x="994.3" y="1848" font-size="65.5" text-anchor="middle">0</text>
<text x="1276.3" y="1848" font-size="65.5" text-anchor="middle">2</text>
<text x="1558.3" y="1848" font-size="65.5" text-anchor="middle">4</text>
<text x="1699.3" y="1848" font-size="65.5" text-anchor="middle">0</text>
<text x="1981.3" y="1848" font-size="65.5" text-anchor="middle">2</text>
<text x="2263.3" y="1848" font-size="65.5" text-anchor="middle">4</text>
<text x="619" y="85.6" font-size="73.3" text-anchor="middle">x=52.0 mm</text>
<text x="1355.5" y="84.8" font-size="73.3" text-anchor="middle">x=155.0 mm</text>
<text x="2022.5" y="80.9" font-size="73.3" text-anchor="middle">x=315.0 mm</text>
<text transform="translate(91.6 934) rotate(-90)" font-size="81" text-anchor="middle">r/R(/)</text>
<text x="1019" y="1974.4" font-size="81.2">TKE of gas (m<tspan dy="-41.5" font-size="46">2</tspan><tspan dy="41.5">/s</tspan><tspan dy="-41.5" font-size="46">2</tspan><tspan dy="41.5">)</tspan></text>
<path class="mk" d="M2058.8 220.7h36"/><path class="mv" d="M2076.8 202.7v36"/>
<text x="2185.3" y="248.3" font-size="57.5">no particle</text>
<text x="1988.7" y="347.4" font-size="59.5">EGP</text>
<path class="c" stroke="#000" d="M1990 428.1H2169.6"/>
<text x="2185.9" y="456.6" font-size="57.5">45.0<tspan class="ser" font-size="76">μ</tspan>m</text>
<path class="c" stroke="#0000ff" d="M1990 537.1H2169.6"/>
<text x="2185.4" y="565.3" font-size="57.5">1000.0<tspan class="ser" font-size="76">μ</tspan>m</text>
<text x="1989.4" y="664.5" font-size="59.5">CP</text>
<path class="c" stroke="#ff8000" stroke-dasharray="31.8 42.2" d="M1990 745.3H2169.6"/>
<text x="2185.9" y="773.5" font-size="57.5">45.0<tspan class="ser" font-size="76">μ</tspan>m</text>
<path class="c" stroke="#ff00ff" stroke-dasharray="31.8 42.2" d="M1990 854.2H2169.6"/>
<text x="2185.4" y="882.7" font-size="57.5">1000.<tspan class="ser" font-size="61">0</tspan><tspan class="ser" font-size="76">μ</tspan>m</text>
</svg>
</body>
</html>
